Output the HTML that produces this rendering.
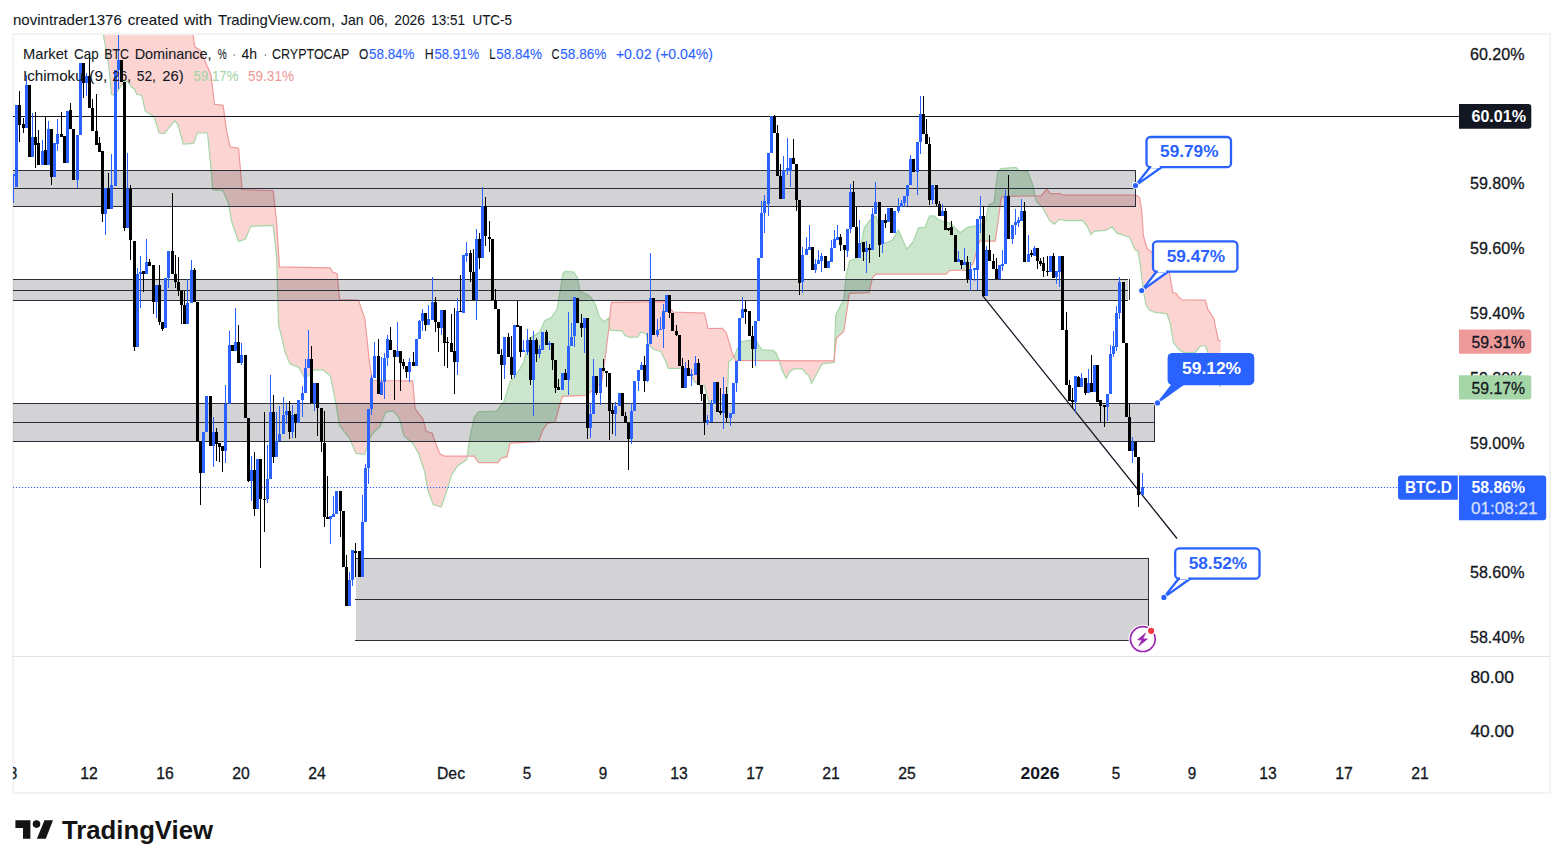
<!DOCTYPE html>
<html lang="en"><head><meta charset="utf-8"><title>BTC.D chart</title>
<style>
html,body{margin:0;padding:0;background:#fff;}
body{width:1563px;height:868px;overflow:hidden;}
svg{display:block;}
text{opacity:0.999;}
text{font-family:"Liberation Sans",Arial,sans-serif;}
.ax{font-size:17px;fill:#131722;}
.axs{stroke:#131722;stroke-width:0.3px;}
.lg{font-size:14.5px;fill:#131722;stroke-width:0.08px;}
.b{font-weight:bold;}
</style></head><body>
<svg width="1563" height="868" viewBox="0 0 1563 868">
<rect width="1563" height="868" fill="#fff"/>
<defs><clipPath id="pane"><rect x="13" y="35" width="1446" height="621"/></clipPath></defs>
<g shape-rendering="crispEdges">
<rect x="13" y="34" width="1537" height="758.5" fill="none" stroke="#f3f3f4" stroke-width="2"/>
<rect x="12" y="656" width="1538" height="1" fill="#e0e3eb"/>
</g>
<g clip-path="url(#pane)">
<polygon points="103.1,34.1 104.1,39.4 105.1,44.6 106.1,49.9 106.5,52 107.1,55.8 108.1,62.2 109,68 109.1,69 110.1,79.2 111.1,89.4 111.6,94.5 112.1,94.6 113.1,94.8 114.1,95 114.2,95 115.1,93.9 116.1,92.8 117.1,91.6 117.6,91 118.1,90.3 119.1,88.9 120.1,87.4 121.1,86 122.1,84.6 123.1,83.1 124.1,81.7 124.6,81 125.1,81.1 126.1,81.4 127.1,81.6 128,81.8 128.1,81.9 129.1,83.4 130.1,84.9 131.1,86.4 131.5,87 132.1,87.4 133.1,88 134.1,88.7 134.6,89 135.1,90.3 136.1,92.9 136.7,94.5 137.1,94.6 138.1,94.7 139.1,94.8 140.1,95 141.1,95.1 141.8,95.2 142.1,96.6 143.1,101.1 144.1,105.7 145.1,110.3 145.3,111.2 146.1,111.7 147.1,112.3 148.1,112.9 149.1,113.5 150.1,114.1 151.1,114.7 152.1,115.3 153.1,115.9 154,116.4 154.1,116.7 155.1,120 156.1,123.2 157.1,126.5 158.1,129.7 159.1,133 160.1,133.1 161.1,133.3 162.1,133.4 163.1,133.5 164.1,133.7 164.3,133.7 165.1,132.7 166.1,131.4 167.1,130.2 168.1,128.9 169.1,127.7 170.1,126.4 171.1,125.1 172.1,123.9 173.1,122.6 174.1,121.4 174.7,120.6 175.1,121.1 176.1,122.4 177.1,123.7 178.1,125 179.1,128.7 180.1,132.3 181.1,136 182.1,139.6 183.1,143.3 183.3,144 184.1,144 185.1,143.9 186.1,143.8 187.1,143.8 188.1,143.7 189.1,143.7 190.1,143.6 191.1,143.6 192.1,143.5 193,143.4 193.1,143.4 193.7,143.4 194.1,142.2 194.6,140.7 195.1,139.2 196.1,136.3 197.1,133.3 197.2,133 198.1,133 199.1,133 200.1,133 200.6,133 201.1,133 202.1,133 203.1,133 204.1,133 205.1,133 206.1,133 207.1,133 207.5,133 208.1,139.1 209.1,149.1 210.1,159.2 211,168.3 211.1,169.6 212.1,182.1 212.7,189.7 213.1,189.7 214.1,189.8 214.4,189.9 215.1,189.9 216.1,190 217.1,190.1 218.1,190.2 219.1,190.3 220.1,190.4 221.1,190.5 222.1,190.6 223.1,190.7 224.1,193 225.1,195.4 226.1,197.7 226.5,198.6 227.1,200 228.1,202.3 228.3,202.8 229.1,207.3 230,212.3 230.1,212.9 231.1,218.4 231.7,221.8 232.1,222.9 233.1,225.8 234.1,228.7 235.1,231.5 236.1,234.4 237.1,237.2 238.1,240.1 238.6,241.5 239.1,241.3 240.1,241 241.1,240.6 242.1,240.2 243.1,239.9 244.1,239.5 245.1,239.1 245.5,239 246.1,237.5 247.1,235.1 248.1,232.7 249.1,230.2 250.1,227.8 250.7,226.3 251.1,226.3 252.1,226.2 253.1,226.2 254.1,226.1 255.1,226.1 256.1,226.1 257.1,226 258.1,226 259.1,225.9 260.1,225.9 261.1,225.8 262.1,225.8 263.1,225.7 264.1,225.7 265.1,225.7 266.1,225.6 267.1,225.6 268.1,225.5 269.1,225.5 270.1,225.4 271.1,225.4 272.1,225.3 273.1,225.3 273.2,225.3 274.1,233.7 275.1,243.1 276.1,252.4 276.7,258 277.1,274 277.5,290 278.1,309.1 278.6,325 279.1,327.1 279.4,328.3 280.1,331.2 281.1,335.3 282.1,339.4 283.1,343.5 284.1,347.6 285.1,351.8 285.5,353.4 286.1,354.8 287.1,357.1 288.1,359.5 289.1,361.8 290,363.9 290.1,363.9 291.1,364.3 292.1,364.7 293.1,365.2 294.1,365.6 295.1,366 296.1,366.4 297.1,366.8 298.1,367.2 298.9,367.5 299.1,367.9 300.1,369.8 301.1,371.6 302.1,373.5 303.1,375.4 304.1,377.3 304.9,378.8 305.1,378.6 306.1,377.6 307.1,376.6 308.1,375.6 309.1,374.6 310.1,373.6 311.1,372.6 312.1,371.6 313.1,370.6 313.9,369.8 314.1,369.8 315.1,369.8 316.1,369.8 317.1,369.8 318.1,369.8 319.1,369.8 320.1,369.8 321.1,369.8 322.1,369.8 322.9,369.8 323.1,370 324.1,370.8 325.1,371.6 326.1,372.4 327.1,373.2 328.1,374 329.1,374.8 330.1,375.6 330.2,375.6 330.4,375.8 331.1,379.3 332.1,384.3 332.6,386.8 333.1,389.3 334.1,394.3 335.1,399.3 336.1,404.3 336.4,405.8 337.1,410.4 338.1,416.9 339.1,423.4 339.4,425.3 339.6,425.6 340.1,426.2 341.1,427.5 342.1,428.8 343.1,430.1 344.1,431.4 345.1,432.6 346.1,433.9 347.1,435.2 348.1,436.5 349.1,437.8 349.8,438.7 350.1,439.4 351.1,441.8 352.1,444.2 353.1,446.6 354.1,449 355.1,451.4 355.8,453.1 356.1,453.2 357.1,453.3 358.1,453.5 358.5,453.6 359.1,453.7 360.1,453.8 361.1,454 362.1,454.2 363.1,454.3 364.1,454.5 364.8,454.6 365.1,453.5 366.1,450 367.1,446.5 368.1,442.9 369.1,439.4 369.3,438.7 370.1,437.5 371.1,436.1 372.1,434.6 372.3,434.3 373.1,433.1 373.8,432.1 374.1,431.8 375.1,431 376.1,430.1 377.1,429.2 378.1,428.3 379.1,427.4 379.8,426.8 380.1,426 381.1,423.5 382.1,421 383.1,418.5 384.1,416 385.1,413.5 385.8,411.8 386.1,411.8 387.1,411.7 388.1,411.6 389.1,411.5 390.1,411.5 391.1,411.4 392.1,411.3 393.1,411.2 393.3,411.2 394.1,412.1 395.1,413.2 396.1,414.3 397.1,415.4 398.1,416.5 399.1,417.6 399.3,417.8 400.1,421 401.1,425 402.1,428.9 403.1,432.9 403.8,435.7 404.1,436 405.1,436.8 406.1,437.6 407.1,438.5 408.1,439.3 409.1,440.2 410.1,441 411.1,441.9 412.1,442.7 412.7,443.2 413.1,443.9 414.1,445.7 415.1,447.4 416.1,449.2 417.1,450.9 418.1,452.7 418.7,453.7 419.1,454.9 420.1,457.9 421.1,460.9 422.1,463.9 423.1,466.9 423.2,467.2 424.1,469.9 424.7,471.7 425.1,474.1 426.1,480.1 426.2,480.6 427.1,486 427.7,489.6 428.1,490.7 429.1,493.5 430.1,496.3 431.1,499 432.1,501.8 432.2,502.1 433.1,504.6 434.1,504.9 435.1,505.2 436.1,505.5 436.7,505.7 437.1,505.8 438.1,506.1 439.1,506.4 439.7,506.6 440.1,506.7 441.1,507 441.2,507 442.1,504.4 443.1,501.5 444.1,498.6 444.2,498.3 445.1,495.7 446.1,492.8 447.1,489.9 447.2,489.6 448.1,486.6 449.1,483.3 450.1,480 451.1,476.7 451.7,474.7 452.1,474.1 453.1,472.6 454.1,471.1 455.1,469.6 456.1,468.1 457.1,466.6 457.7,465.7 458.1,465.4 459.1,464.8 460.1,464.1 461.1,463.4 462.1,462.8 463.1,462.1 464.1,461.4 465.1,460.8 466.1,460.1 466.7,459.7 467.1,456.8 468.1,449.6 468.1,456.1 467.1,456.1 466.7,456.1 466.1,456.1 465.1,456.1 464.1,456.1 463.1,456.1 462.1,456.1 461.1,456.1 460.1,456.1 459.1,456.1 458.1,456.1 457.7,456.1 457.1,456.1 456.1,456.1 455.1,456.1 454.1,456.1 453.1,456.1 452.1,456.1 451.7,456.1 451.1,456.1 450.1,456.1 449.1,456.1 448.1,456.1 447.2,456.1 447.1,456.1 446.1,456.1 445.1,456.1 444.2,456.1 444.1,456 443.1,455.5 442.1,455 441.2,454.5 441.1,454.4 440.1,453.9 439.7,453.7 439.1,452.2 438.1,449.7 437.1,447.2 436.7,446.2 436.1,444.5 435.1,441.6 434.1,438.7 433.1,435.9 432.2,433.3 432.1,433.3 431.1,432.9 430.1,432.6 429.1,432.2 428.1,431.9 427.7,431.7 427.1,431.5 426.2,431.2 426.1,430.8 425.1,426.8 424.7,425.2 424.1,422.9 423.2,419.3 423.1,419.2 422.1,417.9 421.1,416.6 420.1,415.3 419.1,414 418.7,413.5 418.1,412.7 417.1,411.4 416.1,410.1 415.1,408.8 414.1,397.2 413.1,385.6 412.7,380.9 412.1,380.9 411.1,380.9 410.1,380.9 409.1,380.9 408.1,380.9 407.1,380.8 406.1,380.8 405.1,380.8 404.1,380.8 403.8,380.8 403.1,380.8 402.1,380.8 401.1,380.8 400.1,380.8 399.3,380.8 399.1,380.8 398.1,380.8 397.1,380.7 396.1,380.7 395.1,380.7 394.1,380.7 393.3,380.7 393.1,380.7 392.1,380.7 391.1,380.7 390.1,380.7 389.1,380.7 388.1,380.7 387.1,380.6 386.1,380.6 385.8,380.6 385.1,380.6 384.1,380.6 383.1,380.6 382.1,380.6 381.1,380.6 380.1,380.6 379.8,380.6 379.1,380.6 378.1,380.6 377.1,380.5 376.1,380.5 375.1,380.5 374.1,380.5 373.8,380.5 373.1,380.5 372.3,380.5 372.1,379.2 371.1,372.7 370.1,366.1 369.3,360.9 369.1,359 368.1,349.7 367.1,340.4 366.1,331 365.1,321.7 364.8,318.9 364.1,316.8 363.1,313.8 362.1,310.8 361.1,307.8 360.1,304.8 359.1,301.8 358.5,300 358.1,300 357.1,300 356.1,299.9 355.8,299.9 355.1,299.9 354.1,299.9 353.1,299.9 352.1,299.9 351.1,299.8 350.1,299.8 349.8,299.8 349.1,299.8 348.1,299.8 347.1,299.8 346.1,299.7 345.1,299.7 344.1,299.7 343.1,299.7 342.1,299.7 341.1,299.6 340.1,299.6 339.6,299.6 339.4,297.5 339.1,294.4 338.1,284.1 337.1,273.7 336.4,273.4 336.1,273.3 335.1,272.9 334.1,272.6 333.1,272.2 332.6,272 332.1,271.1 331.1,269.4 330.4,268.1 330.2,267.8 330.1,267.8 329.1,267.8 328.1,267.8 327.1,267.7 326.1,267.7 325.1,267.7 324.1,267.7 323.1,267.7 322.9,267.7 322.1,267.6 321.1,267.6 320.1,267.6 319.1,267.6 318.1,267.6 317.1,267.5 316.1,267.5 315.1,267.5 314.1,267.5 313.9,267.5 313.1,267.5 312.1,267.4 311.1,267.4 310.1,267.4 309.1,267.4 308.1,267.4 307.1,267.3 306.1,267.3 305.1,267.3 304.9,267.3 304.1,267.3 303.1,267.3 302.1,267.2 301.1,267.2 300.1,267.2 299.1,267.2 298.9,267.2 298.1,267.2 297.1,267.1 296.1,267.1 295.1,267.1 294.1,267.1 293.1,267.1 292.1,267.1 291.1,267 290.1,267 290,267 289.1,267 288.1,267 287.1,267 286.1,266.9 285.5,266.9 285.1,266.9 284.1,266.9 283.1,266.9 282.1,266.9 281.1,266.8 280.1,266.8 279.4,266.8 279.1,262 278.6,254 278.1,246 277.5,236.4 277.1,230 276.7,223.6 276.1,218 275.1,208.6 274.1,199.2 273.2,190.7 273.1,190.7 272.1,190.7 271.1,190.6 270.1,190.6 269.1,190.6 268.1,190.5 267.1,190.5 266.1,190.5 265.1,190.4 264.1,190.4 263.1,190.4 262.1,190.3 261.1,190.3 260.1,190.3 259.1,190.2 258.1,190.2 257.1,190.2 256.1,190.2 255.1,190.1 254.1,190.1 253.1,190.1 252.1,190 251.1,190 250.7,190 250.1,190 249.1,189.9 248.1,189.9 247.1,189.9 246.1,189.8 245.5,189.8 245.1,189.8 244.1,189.8 243.1,189.7 242.1,189.7 241.1,177.8 240.1,166 239.1,154.1 238.6,148.2 238.1,148.1 237.1,148 236.1,147.8 235.1,147.6 234.1,147.5 233.1,147.3 232.1,147.1 231.7,147.1 231.1,147 230.1,146.8 230,146.8 229.1,142.5 228.3,138.7 228.1,137.8 227.1,133 226.5,130.2 226.1,127.3 225.1,120 224.1,112.7 223.1,105.4 222.1,105.3 221.1,105.1 220.1,105 219.1,104.9 218.1,104.8 217.1,104.6 216.1,104.5 215.1,104.4 214.4,104.3 214.1,101.7 213.1,93.1 212.7,89.6 212.1,84.5 211.1,75.9 211,75 210.1,72.9 209.1,70.6 208.1,68.2 207.5,66.8 207.1,65.9 206.1,63.6 205.1,61.2 204.1,58.9 203.1,56.5 202.1,54.2 201.1,51.9 200.6,50.7 200.1,50.4 199.1,49.7 198.1,49 197.2,48.4 197.1,48.3 196.1,47.6 195.1,46.9 194.6,46.6 194.1,42.7 193.7,39.5 193.1,34.8 193,34 192.1,20 191.1,20 190.1,20 189.1,20 188.1,20 187.1,20 186.1,20 185.1,20 184.1,20 183.3,20 183.1,20 182.1,20 181.1,20 180.1,20 179.1,20 178.1,20 177.1,20 176.1,20 175.1,20 174.7,20 174.1,20 173.1,20 172.1,20 171.1,20 170.1,20 169.1,20 168.1,20 167.1,20 166.1,20 165.1,20 164.3,20 164.1,20 163.1,20 162.1,20 161.1,20 160.1,20 159.1,20 158.1,20 157.1,20 156.1,20 155.1,20 154.1,20 154,20 153.1,20 152.1,20 151.1,20 150.1,20 149.1,20 148.1,20 147.1,20 146.1,20 145.3,20 145.1,20 144.1,20 143.1,20 142.1,20 141.8,20 141.1,20 140.1,20 139.1,20 138.1,20 137.1,20 136.7,20 136.1,20 135.1,20 134.6,20 134.1,20 133.1,20 132.1,20 131.5,20 131.1,20 130.1,20 129.1,20 128.1,20 128,20 127.1,20 126.1,20 125.1,20 124.6,20 124.1,20 123.1,20 122.1,20 121.1,20 120.1,20 119.1,20 118.1,20 117.6,20 117.1,20 116.1,20 115.1,20 114.2,20 114.1,20 113.1,20 112.1,20 111.6,20 111.1,20 110.1,20 109.1,20 109,20 108.1,20 107.1,20 106.5,20 106.1,20 105.1,20 104.1,20 103.1,20" fill="#fcd5d2"/>
<polygon points="468.1,449.6 469.1,442.3 469.6,438.7 470.1,436.4 471.1,431.7 472.1,427.1 473.1,422.4 474.1,417.8 475.1,416.5 476.1,415.1 477.1,413.8 478.1,412.5 478.6,411.8 479.1,411.8 480.1,411.8 481.1,411.7 482.1,411.7 483.1,411.6 484.1,411.6 485.1,411.6 486.1,411.6 487.1,411.5 488.1,411.5 489.1,411.4 490.1,411.4 491.1,411.4 492.1,411.4 493.1,411.3 494.1,411.3 495.1,411.2 496.1,411.2 496.6,411.2 497.1,410.5 498.1,409.2 499.1,407.9 500.1,406.6 501.1,405.3 502.1,403.9 503.1,402.6 504.1,401.3 505.1,398.1 506.1,394.8 507.1,391.6 508.1,388.3 509.1,385.1 510.1,381.8 511.1,380.6 512.1,379.4 513.1,378.2 514.1,377 515.1,375.8 516.1,374.6 517.1,373.4 517.6,372.8 518.1,371.9 519.1,370.2 520.1,368.5 521.1,366.7 522.1,365 523.1,363.3 523.6,362.4 524.1,360.4 525.1,356.3 526.1,352.2 527.1,348.2 528.1,344.1 529.1,340 529.5,338.4 530.1,338 531.1,337.4 532.1,336.8 533.1,336.2 534.1,335.6 535.1,335 536.1,334.4 537.1,333.8 538.1,333.2 538.5,332.9 539.1,332.5 540,332 540.1,331.8 541.1,329.4 542.1,327 543,324.8 543.1,324.6 544.1,322.2 544.8,320.5 545.1,320.4 546.1,320 547.1,319.6 547.5,319.4 548.1,319.1 549.1,318.7 550.1,318.3 550.9,318 551.1,317.7 552.1,316.3 553.1,314.9 554.1,313.5 555,312.3 555.1,312.1 556.1,310.7 556.9,309.6 557.1,308.5 558.1,302.9 559.1,297.4 559.3,296.3 559.5,295.1 560.1,291.3 561.1,285.1 562.1,278.9 562.5,276.4 563,273.3 563.1,273.2 564.1,272.4 565.1,271.6 565.4,271.4 566.1,271.4 567.1,271.5 568.1,271.6 569.1,271.7 570.1,271.7 571.1,271.8 572.1,271.9 573.1,271.9 573.9,272 574.1,272.3 575.1,274 576.1,275.7 577.1,277.3 577.5,278 578.1,281.4 579.1,286.9 579.9,291.4 580.1,291.5 581.1,291.9 582.1,292.3 583.1,292.8 584.1,293.2 585.1,293.6 586,294 586.1,294 587.1,294.4 588.1,294.9 588.4,295 589.1,295.7 590.1,296.7 591.1,297.8 592,298.7 592.1,298.9 593.1,300.5 594.1,302.2 595.1,303.9 595.6,304.7 596.1,306.3 597.1,309.6 598.1,312.9 599.1,316.1 599.3,316.8 600.1,317.6 601.1,318.6 601.7,319.3 602.1,319.7 603.1,320.7 604.1,321.7 605.1,320.9 605.3,320.8 606.1,320.2 607.1,319.4 608.1,318.6 608.9,318 609.1,320 610.1,330.1 610.1,315 609.1,325.6 608.9,327.7 608.1,334.1 607.1,342.2 606.1,350.3 605.3,356.7 605.1,358.1 604.1,365.1 603.1,372.2 602.1,379.2 601.7,382 601.1,382.5 600.1,383.4 599.3,384.1 599.1,384.3 598.1,385.2 597.1,386.1 596.1,387 595.6,387.4 595.1,387.9 594.1,388.7 593.1,389.6 592.1,390.5 592,390.6 591.1,391.3 590.1,392.1 589.1,392.9 588.4,393.5 588.1,393.7 587.1,394.5 586.1,395.3 586,395.4 585.1,395.4 584.1,395.5 583.1,395.5 582.1,395.5 581.1,395.6 580.1,395.6 579.9,395.6 579.1,395.7 578.1,395.7 577.5,395.7 577.1,395.7 576.1,395.8 575.1,395.8 574.1,395.9 573.9,395.9 573.1,395.9 572.1,395.9 571.1,396 570.1,396 569.1,396 568.1,396.1 567.1,396.1 566.1,396.2 565.4,396.2 565.1,396.2 564.1,396.2 563.1,396.3 563,396.3 562.5,396.3 562.1,397.6 561.1,400.7 560.1,403.9 559.5,405.8 559.3,406.5 559.1,407.3 558.1,410.9 557.1,414.6 556.9,415.3 556.1,418.3 555.1,421.9 555,422.3 554.1,422.4 553.1,422.5 552.1,422.6 551.1,422.8 550.9,422.8 550.1,422.9 549.1,423 548.1,423.1 547.5,423.2 547.1,423.8 546.1,425.2 545.1,426.7 544.8,427.1 544.1,428.1 543.1,429.6 543,429.7 542.1,432.1 541.1,434.8 540.1,437.4 540,437.7 539.1,440.1 538.5,441.7 538.1,441.7 537.1,441.8 536.1,441.8 535.1,441.9 534.1,441.9 533.1,442 532.1,442 531.1,442.1 530.1,442.1 529.5,442.2 529.1,442.2 528.1,442.2 527.1,442.3 526.1,442.4 525.1,442.4 524.1,442.5 523.6,442.5 523.1,442.5 522.1,442.6 521.1,442.6 520.1,442.7 519.1,442.7 518.1,442.8 517.6,442.8 517.1,442.8 516.1,442.9 515.1,442.9 514.1,443 513.1,443 512.1,443.1 511.1,443.1 510.1,443.2 509.1,447.7 508.1,452.2 507.1,456.7 506.1,456.9 505.1,457.2 504.1,457.4 503.1,457.7 502.1,457.9 501.1,458.2 500.1,459.7 499.1,461.2 498.1,462.7 497.1,462.7 496.6,462.7 496.1,462.7 495.1,462.7 494.1,462.7 493.1,462.7 492.1,462.7 491.1,462.7 490.1,462.7 489.1,462.7 488.1,462.7 487.1,462.7 486.1,462.7 485.1,462.7 484.1,462.7 483.1,462.7 482.1,462.7 481.1,462.7 480.1,462.7 479.1,462.7 478.6,462.7 478.1,462 477.1,460.5 476.1,459 475.1,457.6 474.1,456.1 473.1,456.1 472.1,456.1 471.1,456.1 470.1,456.1 469.6,456.1 469.1,456.1 468.1,456.1" fill="#cbe6cc"/>
<polygon points="610.1,330.1 611.1,330.2 611.3,330.2 612.1,330.2 613.1,330.3 614.1,330.4 615.1,330.4 616.1,330.5 617.1,330.6 618.1,330.6 619.1,330.7 620.1,330.8 621.1,330.8 622.1,330.9 622.2,330.9 623.1,332.4 624.1,334.1 624.6,335 625.1,335.2 626.1,335.7 627.1,336.2 628.1,336.7 629.1,337.2 629.5,337.4 630.1,337.4 631.1,337.3 632.1,337.2 633.1,337.2 634.1,337.1 635.1,337.1 636.1,337 637.1,336.9 637.9,336.9 638.1,336.5 639.1,334.5 640.1,332.6 640.4,332 641.1,332.2 642.1,332.5 643.1,332.8 644.1,333.1 645.1,333.4 646.1,333.7 646.4,333.8 647.1,339.4 647.6,343.4 648.1,343.9 649.1,344.9 650.1,345.9 651.1,346.9 652.1,347.9 653.1,348.9 653.7,349.5 654.1,349.6 655.1,349.9 656.1,350.1 657.1,350.4 658.1,350.7 659.1,350.9 660.1,351.2 660.9,351.4 661.1,351.8 662.1,353.9 663.1,356 664.1,358.1 665.1,360.1 665.8,361.6 666.1,362.4 667.1,365.2 668.1,368 668.2,368.3 669.1,368.3 670.1,368.3 671.1,368.3 672.1,368.3 673,368.3 673.1,368.3 674.1,368.3 675.1,368.3 676.1,368.3 677.1,368.3 678.1,368.3 679.1,368.3 680.1,368.3 680.3,368.3 681.1,367.7 682.1,366.9 682.7,366.4 683.1,367.6 684.1,370.7 685.1,373.7 686.1,374 687.1,374.3 688.1,374.6 689.1,375 690.1,375.3 691.1,375.6 692.1,377.4 693.1,379.1 694.1,380.9 694.8,382.1 695.1,382.3 696.1,383 697.1,383.6 698.1,384.3 699.1,385 699.6,385.3 700.1,385.4 701.1,385.5 702.1,385.6 703.1,385.7 704.1,385.8 704.4,385.8 705.1,388.5 706.1,392.3 706.9,395.4 707.1,396 708,398.7 708.1,399.1 709.1,402.1 709.3,402.7 710.1,402.2 711.1,401.5 712.1,400.8 712.9,400.3 713.1,400.3 714.1,400.2 715.1,400.1 716.1,400 717.1,399.9 718.1,399.8 719.1,399.7 720.1,399.7 721.1,399.6 722.1,399.5 722.3,399.5 723.1,399.4 724.1,399.3 725.1,399.2 726.1,399.1 726.2,399.1 727.1,399 727.5,399 728.1,378.8 728.6,362 729.1,361.6 730.1,360.8 731,360 731.1,359.9 732.1,358.8 733.1,357.8 734.1,356.7 734.1,357.2 733.1,354.7 732.1,352.2 731.1,348.9 731,348.6 730.1,345.6 729.1,342.3 728.6,340.6 728.1,339 727.5,337 727.1,335.7 726.2,332.7 726.1,332.6 725.1,331.5 724.1,330.4 723.1,329.3 722.3,328.4 722.1,328.4 721.1,328.4 720.1,328.4 719.1,328.4 718.1,328.4 717.1,328.4 716.1,328.4 715.1,328.5 714.1,328.5 713.1,328.5 712.9,328.5 712.1,328.5 711.1,328.5 710.1,328.5 709.3,328.5 709.1,328.5 708.1,328.5 708,328.5 707.1,324.7 706.9,323.8 706.1,320.4 705.1,316.2 704.4,313.2 704.1,313.2 703.1,313.2 702.1,313.1 701.1,313.1 700.1,313 699.6,313 699.1,313 698.1,313 697.1,312.9 696.1,312.9 695.1,312.8 694.8,312.8 694.1,312.8 693.1,312.8 692.1,312.7 691.1,312.7 690.1,312.7 689.1,312.6 688.1,312.6 687.1,312.5 686.1,312.5 685.1,312.5 684.1,312.4 683.1,312.4 682.7,312.4 682.1,312.3 681.1,312.3 680.3,312.3 680.1,312.3 679.1,312.2 678.1,312.2 677.1,312.2 676.1,312.1 675.1,312.1 674.1,312 673.1,312 673,312 672.1,310.7 671.1,309.3 670.1,307.8 669.1,306.4 668.2,305.1 668.1,304.9 667.1,303.5 666.1,302 665.8,301.6 665.1,301.6 664.1,301.6 663.1,301.6 662.1,301.6 661.1,301.7 660.9,301.7 660.1,301.7 659.1,301.7 658.1,301.7 657.1,301.7 656.1,301.7 655.1,301.7 654.1,301.8 653.7,301.8 653.1,301.8 652.1,301.8 651.1,301.8 650.1,301.8 649.1,301.8 648.1,301.8 647.6,301.8 647.1,301.8 646.4,301.8 646.1,301.9 645.1,301.9 644.1,301.9 643.1,301.9 642.1,301.9 641.1,301.9 640.4,301.9 640.1,301.9 639.1,301.9 638.1,302 637.9,302 637.1,302 636.1,302 635.1,302 634.1,302 633.1,302 632.1,302 631.1,302 630.1,302.1 629.5,302.1 629.1,302.1 628.1,302.1 627.1,302.1 626.1,302.1 625.1,302.1 624.6,302.1 624.1,302.1 623.1,302.1 622.2,302.2 622.1,302.2 621.1,302.2 620.1,302.2 619.1,302.2 618.1,302.2 617.1,302.2 616.1,302.2 615.1,302.3 614.1,302.3 613.1,302.3 612.1,302.3 611.3,302.3 611.1,304.4 610.1,315" fill="#fcd5d2"/>
<polygon points="734.1,356.7 734.6,356.2 735.1,354.8 735.4,353.9 736.1,351.9 737,349.3 737.1,349.1 738.1,347.3 739.1,345.5 740.1,343.7 741.1,341.9 741.3,341.5 742.1,341.4 743.1,341.2 744.1,341.1 745.1,340.9 746.1,340.8 747.1,340.6 748.1,340.5 749.1,340.3 750.1,340.2 750.7,340.1 751.1,340.1 752.1,340.2 753.1,340.3 754.1,340.3 755.1,340.4 756.1,340.5 756.6,340.5 757.1,341.8 758.1,344.4 758.5,345.4 759.1,346.1 760.1,347.2 761.1,348.3 762.1,349.4 762.5,349.9 763.1,349.9 764.1,350 765.1,350 766.1,350 767.1,350.1 768.1,350.1 769.1,350.1 770.1,350.2 771.1,350.2 772.1,350.3 773.1,350.3 773.2,350.3 774.1,351.2 775.1,352.1 776.1,353.1 776.2,353.2 777.1,355.3 778.1,357.7 779.1,360 780.1,363.4 780.1,360.6 779.1,360.6 778.1,360.6 777.1,360.6 776.2,360.6 776.1,360.6 775.1,360.6 774.1,360.6 773.2,360.6 773.1,360.6 772.1,360.6 771.1,360.6 770.1,360.6 769.1,360.6 768.1,360.6 767.1,360.6 766.1,360.6 765.1,360.6 764.1,360.6 763.1,360.6 762.5,360.6 762.1,360.6 761.1,360.6 760.1,360.6 759.1,360.6 758.5,360.6 758.1,360.6 757.1,360.6 756.6,360.6 756.1,360.6 755.1,360.6 754.1,360.6 753.1,360.6 752.1,360.6 751.1,360.5 750.7,360.5 750.1,360.5 749.1,360.5 748.1,360.5 747.1,360.5 746.1,360.5 745.1,360.5 744.1,360.5 743.1,360.5 742.1,360.5 741.3,360.5 741.1,360.5 740.1,360.5 739.1,360.5 738.1,360.5 737.1,360.5 737,360.5 736.1,360.5 735.4,360.5 735.1,359.7 734.6,358.5 734.1,357.2" fill="#cbe6cc"/>
<polygon points="780.1,363.4 781.1,366.8 782,369.9 782.1,370.1 783.1,372 784.1,373.9 785.1,375.8 786.1,377.7 786.3,378.1 787.1,376.6 788.1,374.7 789.1,372.9 789.9,371.4 790.1,371.3 791.1,370.6 792.1,370 793.1,369.3 793.8,368.9 794.1,368.9 795.1,368.9 796.1,368.9 797.1,368.9 798.1,368.9 799.1,368.9 800.1,368.9 801.1,368.9 802.1,368.9 802.6,368.9 803.1,369.7 804.1,371.2 805.1,372.8 805.5,373.4 806.1,373.7 807.1,374.3 808.1,374.8 808.5,375 809.1,376.6 810.1,379.4 811.1,382.1 811.5,383.2 812.1,382.1 813.1,380.3 814.1,378.5 815.1,376.7 816.1,374.9 816.6,374 817.1,373.1 818.1,371.2 819.1,369.3 820.1,367.4 821.1,365.5 821.9,364 822.1,364 823.1,363.8 824.1,363.7 825.1,363.6 826.1,363.4 827.1,363.3 828.1,363.2 829.1,363.1 830.1,362.9 831.1,362.8 832.1,362.7 833.1,362.5 834.1,362.4 835.1,332.9 835.1,351 834.1,360.8 833.1,360.8 832.1,360.8 831.1,360.8 830.1,360.8 829.1,360.8 828.1,360.8 827.1,360.8 826.1,360.8 825.1,360.8 824.1,360.8 823.1,360.8 822.1,360.8 821.9,360.8 821.1,360.8 820.1,360.8 819.1,360.8 818.1,360.8 817.1,360.7 816.6,360.7 816.1,360.7 815.1,360.7 814.1,360.7 813.1,360.7 812.1,360.7 811.5,360.7 811.1,360.7 810.1,360.7 809.1,360.7 808.5,360.7 808.1,360.7 807.1,360.7 806.1,360.7 805.5,360.7 805.1,360.7 804.1,360.7 803.1,360.7 802.6,360.7 802.1,360.7 801.1,360.7 800.1,360.7 799.1,360.7 798.1,360.7 797.1,360.7 796.1,360.7 795.1,360.7 794.1,360.7 793.8,360.7 793.1,360.7 792.1,360.7 791.1,360.7 790.1,360.7 789.9,360.7 789.1,360.7 788.1,360.7 787.1,360.7 786.3,360.7 786.1,360.7 785.1,360.7 784.1,360.6 783.1,360.6 782.1,360.6 782,360.6 781.1,360.6 780.1,360.6" fill="#fcd5d2"/>
<polygon points="835.1,332.9 835.7,315.2 836.1,314.4 836.4,313.8 837.1,312.4 838.1,310.4 839.1,308.4 840.1,306.4 840.3,306 841.1,304.4 842.1,302.4 843.1,300.4 843.8,299 844.1,296 845.1,286 846.1,276 847.1,271.6 848.1,267.2 849.1,262.8 849.5,261 850.1,260.8 851.1,260.4 852.1,260 853.1,259.6 854.1,259.3 855.1,258.9 855.3,258.8 856.1,257.2 857.1,255.2 858.1,253.1 859.1,251.1 859.9,249.5 860.1,248.5 861.1,243.8 862.1,239 863.1,234.3 864.1,229.5 864.5,227.6 865.1,226.8 866.1,225.5 867.1,224.1 868.1,222.8 869.1,221.5 870.1,220.1 871.1,218.8 871.4,218.4 872.1,218 872.6,217.8 873.1,217.5 874.1,217 875.1,216.5 876,216 876.1,216.4 877.1,220.4 878.1,224.3 879.1,228.3 880.1,232.3 881.1,236.3 882.1,240.2 883,243.8 883.1,243.8 884.1,243.4 885.1,243 886.1,242.6 887.1,242.2 888.1,241.9 889.1,241.5 890.1,241.1 891.1,240.7 892.1,240.3 892.2,240.3 893.1,238.9 894.1,237.3 895.1,235.7 896.1,234.1 897.1,232.5 898.1,230.9 898.5,230.3 899.1,231.6 900.1,233.9 901.1,236.1 902.1,238.3 902.5,239.2 903.1,240.6 904.1,243 905.1,245.4 906.1,247.8 906.7,249.2 907.1,248.7 908.1,247.6 909.1,246.5 910.1,245.3 911.1,244.2 912.1,243 913,242 913.1,241.7 914.1,239.2 915.1,236.6 916.1,234 917.1,231.4 918.1,228.8 918.5,227.8 919.1,227.8 920.1,227.7 921.1,227.6 922.1,227.5 923.1,227.4 924.1,227.4 925,227.3 925.1,227 926.1,224.5 927.1,222 928.1,219.5 929.1,217 929.5,216 930.1,216 931.1,215.9 932.1,215.9 933.1,215.9 934.1,215.8 934.5,215.8 935.1,216.4 936.1,217.4 937.1,218.5 938.1,219.5 938.2,219.6 939.1,220 940.1,220.4 941.1,220.9 942.1,221.3 943.1,221.8 943.2,221.8 944.1,221.9 945.1,222.1 946.1,222.3 946.3,222.3 947.1,222.4 948.1,222.6 949.1,222.8 949.3,222.8 950.1,222.9 950.5,223 951.1,223.7 952.1,224.8 953.1,225.9 954.1,227 955,228 955.1,228.1 956.1,229 957.1,229.9 958.1,230.9 959.1,231.8 960.1,232.7 961.1,232 962.1,231.2 963.1,230.5 964.1,229.8 965.1,229.1 966.1,228.3 967.1,227.6 967.4,227.4 968.1,227.3 969.1,227.1 970.1,226.9 971.1,226.7 972.1,226.5 973.1,226.4 973.4,226.3 974.1,226.2 975.1,226 976.1,225.8 977.1,225.6 978.1,225.4 978.3,225.4 979.1,225 979.7,224.7 980.1,224.5 981.1,224 982.1,223.5 983.1,223 984.1,222.5 985.1,222 985.5,221.8 986.1,218.6 987.1,213.4 988.1,208.1 988.7,204.9 989.1,204.7 990.1,204.3 991.1,203.8 992.1,203.4 993.1,202.9 994,202.5 994.1,201.7 995.1,193.2 995.2,192.4 996.1,184.8 997.1,176.4 997.6,172.2 998.1,171.7 999.1,170.7 1000.1,169.7 1001.1,168.7 1001.2,168.6 1002.1,168.5 1003.1,168.4 1003.7,168.4 1004.1,168.4 1005.1,168.3 1006.1,168.2 1007.1,168.1 1008.1,168 1009.1,168 1010.1,167.9 1011.1,167.8 1012.1,167.7 1013.1,167.6 1014.1,167.5 1015.1,167.5 1015.8,167.4 1016.1,167.7 1017.1,168.7 1018.1,169.7 1019.1,170.7 1019.4,171 1020.1,171.1 1021.1,171.1 1022.1,171.2 1023.1,171.3 1024.1,171.4 1025.1,171.5 1026.1,171.6 1027.1,171.6 1027.8,171.7 1028.1,172.5 1029.1,175 1030.1,177.6 1031.1,180.2 1032.1,182.8 1032.7,184.3 1033.1,186.2 1034.1,190.9 1035.1,195.6 1036.1,200.3 1036.1,196 1035.1,196 1034.1,196 1033.1,196 1032.7,196 1032.1,196 1031.1,196 1030.1,196 1029.1,196.1 1028.1,196.1 1027.8,196.1 1027.1,196.1 1026.1,196.1 1025.1,196.1 1024.1,196.1 1023.1,196.1 1022.1,196.2 1021.1,196.2 1020.1,196.2 1019.4,196.2 1019.1,196.2 1018.1,196.2 1017.1,196.2 1016.1,196.2 1015.8,196.2 1015.1,196.2 1014.1,196.3 1013.1,196.3 1012.1,196.3 1011.1,196.3 1010.1,196.3 1009.1,196.3 1008.1,196.3 1007.1,196.4 1006.1,196.4 1005.1,196.4 1004.1,196.4 1003.7,196.4 1003.1,196.7 1002.1,197.2 1001.2,197.6 1001.1,198.4 1000.1,206.1 999.1,213.8 998.1,221.5 997.6,225.4 997.1,228.7 996.1,235.2 995.2,241.1 995.1,241.1 994.1,241.1 994,241.1 993.1,241.1 992.1,241.1 991.1,241.1 990.1,241.1 989.1,241.1 988.7,241.1 988.1,241.1 987.1,241 986.1,241 985.5,241 985.1,241 984.1,241 983.1,241 982.1,241 981.1,241 980.1,241 979.7,241 979.1,242.6 978.3,244.8 978.1,245.5 977.1,249.2 976.1,252.9 975.1,256.6 974.1,260.3 973.4,262.9 973.1,263.3 972.1,264.5 971.1,265.7 970.1,266.9 969.1,268.1 968.1,269.3 967.4,270.2 967.1,270.2 966.1,270.2 965.1,270.2 964.1,270.3 963.1,270.3 962.1,270.3 961.1,270.3 960.1,270.3 959.1,270.3 958.1,270.4 957.1,270.4 956.1,270.4 955.1,270.4 955,270.4 954.1,270.4 953.1,270.4 952.1,270.5 951.1,270.5 950.5,270.5 950.1,270.5 949.3,270.5 949.1,270.7 948.1,272 947.1,273.2 946.3,274.2 946.1,274.2 945.1,274.2 944.1,274.2 943.2,274.2 943.1,274.2 942.1,274.2 941.1,274.2 940.1,274.2 939.1,274.2 938.2,274.2 938.1,274.2 937.1,274.2 936.1,274.2 935.1,274.2 934.5,274.2 934.1,274.2 933.1,274.2 932.1,274.2 931.1,274.2 930.1,274.2 929.5,274.2 929.1,274.2 928.1,274.2 927.1,274.2 926.1,274.2 925.1,274.2 925,274.2 924.1,274.2 923.1,274.2 922.1,274.2 921.1,274.2 920.1,274.2 919.1,274.2 918.5,274.2 918.1,274.2 917.1,274.2 916.1,274.2 915.1,274.2 914.1,274.2 913.1,274.2 913,274.2 912.1,274.2 911.1,274.2 910.1,274.2 909.1,274.2 908.1,274.2 907.1,274.2 906.7,274.2 906.1,274.2 905.1,274.2 904.1,274.2 903.1,274.2 902.5,274.2 902.1,274.2 901.1,274.2 900.1,274.2 899.1,274.2 898.5,274.2 898.1,274.2 897.1,274.2 896.1,274.2 895.1,274.2 894.1,274.2 893.1,274.2 892.2,274.2 892.1,274.2 891.1,274.2 890.1,274.2 889.1,274.2 888.1,274.2 887.1,274.2 886.1,274.2 885.1,274.2 884.1,274.2 883.1,274.2 883,274.2 882.1,274.2 881.1,274.2 880.1,274.2 879.1,274.2 878.1,274.2 877.1,274.2 876.1,274.2 876,274.2 875.1,275 874.1,275.9 873.1,276.8 872.6,277.2 872.1,279.4 871.4,282.5 871.1,283.8 870.1,288.2 869.1,292.6 868.1,292.6 867.1,292.7 866.1,292.7 865.1,292.7 864.5,292.8 864.1,292.8 863.1,292.8 862.1,292.9 861.1,292.9 860.1,292.9 859.9,292.9 859.1,293 858.1,293 857.1,293 856.1,293.1 855.3,293.1 855.1,293.1 854.1,293.1 853.1,293.2 852.1,293.2 851.1,293.2 850.1,293.3 849.5,293.3 849.1,296 848.1,302.6 847.1,309.3 846.1,316 845.1,322.6 844.1,329.3 843.8,331.3 843.1,332 842.1,332.9 841.1,333.8 840.3,334.6 840.1,334.7 839.1,335.7 838.1,336.6 837.1,337.5 836.4,338.2 836.1,341.1 835.7,345.1 835.1,351" fill="#cbe6cc"/>
<polygon points="1036.1,200.3 1036.3,201.2 1037.1,202 1038.1,203 1039.1,204 1040.1,205 1041.1,206 1042.1,207 1042.4,207.3 1043.1,208.6 1044.1,210.4 1045.1,212.3 1046.1,214.1 1046.7,215.2 1047.1,216 1048.1,217.8 1049.1,219.7 1049.6,220.6 1050.1,221 1050.8,221.5 1051.1,221.7 1052.1,222.5 1053.1,223.2 1054.1,224 1054.4,224.2 1055.1,223.5 1056.1,222.5 1057.1,221.6 1058.1,220.6 1059.1,219.6 1059.3,219.4 1059.5,219.4 1060.1,219.5 1061.1,219.7 1062.1,219.9 1063.1,220 1063.5,220.1 1064.1,220.2 1065.1,220.4 1066.1,220.5 1066.5,220.6 1067.1,220.6 1068.1,220.6 1069.1,220.6 1070.1,220.6 1071.1,220.5 1072.1,220.5 1073.1,220.5 1074.1,220.5 1075.1,220.5 1076.1,220.5 1077.1,220.5 1078.1,220.5 1079.1,220.4 1080.1,220.4 1081.1,220.4 1082.1,220.4 1082.5,220.4 1083.1,221.1 1084.1,222.3 1085.1,223.6 1086.1,224.8 1087.1,226 1088.1,228.3 1089.1,230.6 1090.1,233 1090.8,234.6 1091.1,234.3 1092.1,233.4 1093.1,232.5 1094.1,231.6 1094.7,231.1 1095.1,231.1 1096.1,231 1097.1,230.9 1098.1,230.9 1099.1,230.8 1100.1,230.7 1101.1,230.6 1102.1,230.6 1103.1,230.5 1104.1,230.4 1105.1,230.3 1105.7,230.3 1106.1,230.1 1107.1,229.5 1108.1,229 1109.1,228.5 1110.1,227.9 1111.1,227.4 1112.1,226.9 1112.2,226.8 1113.1,228 1114.1,229.4 1115.1,230.8 1116.1,232.2 1116.6,232.9 1117.1,233.1 1118.1,233.4 1119.1,233.8 1120.1,234.1 1121.1,234.5 1122.1,234.8 1123.1,235.2 1124.1,235.5 1125.1,235.9 1126.1,236.2 1127.1,236.6 1128.1,236.9 1129.1,237.3 1129.8,237.5 1130.1,238.2 1131.1,240.6 1132.1,243 1133.1,245.4 1134.1,247.8 1134.8,249.5 1135.1,249.6 1136.1,250.1 1136.3,250.2 1137.1,250.6 1138.1,251.1 1139.1,257.1 1139.6,260.2 1140.1,263.2 1141.1,271.7 1141.8,277.7 1142.1,280.2 1143.1,289.6 1143.3,291.5 1144.1,295.4 1145.1,300.2 1145.3,301.1 1146.1,305 1147.1,306.5 1147.3,306.8 1148.1,307.9 1149.1,309.4 1149.5,310 1150.1,310.3 1151.1,310.7 1151.8,311.1 1152.1,311.2 1153.1,311.7 1153.8,312 1154.1,312 1155.1,312.2 1156.1,312.3 1157.1,312.5 1158.1,312.6 1159.1,312.8 1160.1,312.9 1161.1,313.1 1162.1,313.2 1163.1,313.3 1164.1,313.5 1165.1,313.6 1166.1,313.8 1167,313.9 1167.1,314.2 1168.1,317.3 1169.1,320.4 1169.5,321.6 1170.1,323.5 1170.4,324.4 1171.1,328.6 1172.1,334.6 1172.7,338.2 1173.1,340.6 1173.4,342.4 1174.1,343.3 1175.1,344.6 1176.1,345.8 1176.4,346.2 1177.1,347.1 1178.1,348.4 1178.4,348.7 1179.1,349.6 1179.4,350 1180.1,350.4 1181.1,351 1182.1,351.6 1182.4,351.7 1183.1,352.1 1183.9,352.6 1184.1,352.6 1185.1,352.6 1186.1,352.6 1187.1,352.6 1188.1,352.6 1189.1,352.6 1190.1,352.6 1191.1,352.6 1192.1,352.6 1193.1,352.6 1194.1,352.6 1195,352.6 1195.1,352.5 1196.1,351.2 1197.1,350 1198.1,348.7 1199.1,347.5 1200.1,346.2 1200.3,346 1201.1,346 1202.1,346 1203.1,346 1204.1,346 1205.1,346 1205.4,346 1205.5,346 1206.1,347.6 1207.1,350.4 1207.7,352 1208,352.8 1208.1,353.1 1209.1,356.2 1210.1,359.2 1211.1,362.3 1212,365 1212.1,365.4 1213.1,369.1 1213.9,372.1 1214.1,372.9 1215.1,376.6 1216,380 1216.1,380.1 1216.2,380.3 1217.1,381.6 1218.1,383.1 1218.3,383.4 1219.1,384.6 1220.1,386.1 1220.7,387 1220.7,340.9 1220.1,340.7 1219.1,340.5 1218.3,340.3 1218.1,339.4 1217.1,334.6 1216.2,330.4 1216.1,329.9 1216,329.4 1215.1,324.7 1214.1,319.4 1213.9,318.4 1213.1,317.2 1212.1,315.7 1212,315.5 1211.1,314.2 1210.1,312.6 1209.1,311.1 1208.1,309.6 1208,309.5 1207.7,309 1207.1,306.7 1206.1,302.9 1205.5,300.6 1205.4,300.2 1205.1,300.2 1204.1,300.2 1203.1,300.2 1202.1,300.2 1201.1,300.1 1200.3,300.1 1200.1,300.1 1199.1,300.1 1198.1,300.1 1197.1,300.1 1196.1,300.1 1195.1,300.1 1195,300.1 1194.1,300.1 1193.1,300 1192.1,300 1191.1,300 1190.1,300 1189.1,300 1188.1,300 1187.1,300 1186.1,299.9 1185.1,299.9 1184.1,299.9 1183.9,299.9 1183.1,299.9 1182.4,299.9 1182.1,299.7 1181.1,299 1180.1,298.3 1179.4,297.8 1179.1,297.6 1178.4,297.1 1178.1,296.6 1177.1,294.8 1176.4,293.5 1176.1,293.4 1175.1,293.2 1174.1,293 1173.4,292.9 1173.1,292.8 1172.7,292.7 1172.1,289 1171.1,282.8 1170.4,278.5 1170.1,276.6 1169.5,272.9 1169.1,272.4 1168.1,271.3 1167.1,270.1 1167,270 1166.1,268.9 1165.1,267.8 1164.1,266.6 1163.1,265.5 1162.1,264.3 1161.1,263.1 1160.1,262 1159.1,260.8 1158.1,259.6 1157.1,258.5 1156.1,257.3 1155.1,256.1 1154.1,255 1153.8,254.6 1153.1,253.8 1152.1,252.6 1151.8,252.3 1151.1,251.7 1150.1,250.9 1149.5,250.5 1149.1,250.1 1148.1,249.3 1147.3,248.7 1147.1,248.1 1146.1,245.3 1145.3,243 1145.1,242.2 1144.1,238.2 1143.3,235 1143.1,231.8 1142.1,215.8 1141.8,211 1141.1,206.8 1140.1,200.9 1139.6,197.9 1139.1,197.5 1138.1,196.7 1137.1,195.9 1136.3,195.2 1136.1,195.2 1135.1,195.2 1134.8,195.2 1134.1,195.2 1133.1,195.2 1132.1,195.2 1131.1,195.2 1130.1,195.2 1129.8,195.2 1129.1,195.2 1128.1,195.2 1127.1,195.2 1126.1,195.2 1125.1,195.2 1124.1,195.2 1123.1,195.2 1122.1,195.2 1121.1,195.2 1120.1,195.2 1119.1,195.2 1118.1,195.2 1117.1,195.2 1116.6,195.2 1116.1,195.2 1115.1,195.2 1114.1,195.2 1113.1,195.2 1112.2,195.2 1112.1,195.2 1111.1,195.2 1110.1,195.2 1109.1,195.2 1108.1,195.2 1107.1,195.2 1106.1,195.2 1105.7,195.2 1105.1,195.2 1104.1,195.2 1103.1,195.2 1102.1,195.2 1101.1,195.2 1100.1,195.2 1099.1,195.2 1098.1,195.2 1097.1,195.2 1096.1,195.2 1095.1,195.2 1094.7,195.2 1094.1,195.2 1093.1,195.2 1092.1,195.2 1091.1,195.2 1090.8,195.2 1090.1,195.2 1089.1,195.2 1088.1,195.2 1087.1,195.2 1086.1,195.2 1085.1,195.2 1084.1,195.2 1083.1,195.2 1082.5,195.2 1082.1,195.2 1081.1,195.2 1080.1,195.2 1079.1,195.2 1078.1,195.2 1077.1,195.2 1076.1,195.2 1075.1,195.2 1074.1,195.2 1073.1,195.2 1072.1,195.2 1071.1,195.2 1070.1,195.2 1069.1,195.2 1068.1,195.2 1067.1,195.2 1066.5,195.2 1066.1,195.2 1065.1,195.2 1064.1,195.2 1063.5,195.2 1063.1,195 1062.1,194.6 1061.1,194.2 1060.1,193.8 1059.5,193.5 1059.3,193.5 1059.1,193.5 1058.1,193.5 1057.1,193.6 1056.1,193.6 1055.1,193.7 1054.4,193.7 1054.1,193.7 1053.1,193.7 1052.1,193.8 1051.1,193.8 1050.8,193.8 1050.1,193 1049.6,192.5 1049.1,191.9 1048.1,190.8 1047.1,189.6 1046.7,189.2 1046.1,189.9 1045.1,191.1 1044.1,192.3 1043.1,193.5 1042.4,194.3 1042.1,194.7 1041.1,195.9 1040.1,195.9 1039.1,195.9 1038.1,195.9 1037.1,196 1036.3,196 1036.1,196" fill="#fcd5d2"/>
<polyline points="103.1,34.1 106.5,52 109,68 111.6,94.5 114.2,95 117.6,91 124.6,81 128,81.8 131.5,87 134.6,89 136.7,94.5 141.8,95.2 145.3,111.2 154,116.4 159.1,133 164.3,133.7 174.7,120.6 178.1,125 183.3,144 193.7,143.4 197.2,133 207.5,133 211,168.3 212.7,189.7 223.1,190.7 228.3,202.8 231.7,221.8 238.6,241.5 245.5,239 250.7,226.3 273.2,225.3 276.7,258 277.5,290 278.6,325 285.5,353.4 290,363.9 298.9,367.5 304.9,378.8 313.9,369.8 322.9,369.8 330.4,375.8 336.4,405.8 339.4,425.3 349.8,438.7 355.8,453.1 364.8,454.6 369.3,438.7 373.8,432.1 379.8,426.8 385.8,411.8 393.3,411.2 399.3,417.8 403.8,435.7 412.7,443.2 418.7,453.7 424.7,471.7 427.7,489.6 433.1,504.6 441.2,507 447.2,489.6 451.7,474.7 457.7,465.7 466.7,459.7 469.6,438.7 474.1,417.8 478.6,411.8 496.6,411.2 504.1,401.3 510.1,381.8 517.6,372.8 523.6,362.4 529.5,338.4 540,332 544.8,320.5 550.9,318 556.9,309.6 559.3,296.3 563,273.3 565.4,271.4 573.9,272 577.5,278 579.9,291.4 588.4,295 592,298.7 595.6,304.7 599.3,316.8 604.1,321.7 608.9,318 610.1,330.1 622.2,330.9 624.6,335 629.5,337.4 637.9,336.9 640.4,332 646.4,333.8 647.6,343.4 653.7,349.5 660.9,351.4 665.8,361.6 668.2,368.3 680.3,368.3 682.7,366.4 685.1,373.7 691.1,375.6 694.8,382.1 699.6,385.3 704.4,385.8 706.9,395.4 709.3,402.7 712.9,400.3 727.5,399 728.6,362 731,360 734.6,356.2 737,349.3 741.3,341.5 750.7,340.1 756.6,340.5 758.5,345.4 762.5,349.9 773.2,350.3 776.2,353.2 779.1,360 782,369.9 786.3,378.1 789.9,371.4 793.8,368.9 802.6,368.9 805.5,373.4 808.5,375 811.5,383.2 816.6,374 821.9,364 834.1,362.4 835.7,315.2 840.3,306 843.8,299 846.1,276 849.5,261 855.3,258.8 859.9,249.5 864.5,227.6 871.4,218.4 876,216 883,243.8 892.2,240.3 898.5,230.3 902.5,239.2 906.7,249.2 913,242 918.5,227.8 925,227.3 929.5,216 934.5,215.8 938.2,219.6 943.2,221.8 950.5,223 955,228 960.1,232.7 967.4,227.4 978.3,225.4 985.5,221.8 988.7,204.9 994,202.5 997.6,172.2 1001.2,168.6 1015.8,167.4 1019.4,171 1027.8,171.7 1032.7,184.3 1036.3,201.2 1042.4,207.3 1049.6,220.6 1054.4,224.2 1059.3,219.4 1066.5,220.6 1082.5,220.4 1087.1,226 1090.8,234.6 1094.7,231.1 1105.7,230.3 1112.2,226.8 1116.6,232.9 1129.8,237.5 1134.8,249.5 1138.1,251.1 1140.1,263.2 1142.1,280.2 1143.3,291.5 1146.1,305 1149.5,310 1153.8,312 1167,313.9 1170.4,324.4 1173.4,342.4 1179.4,350 1183.9,352.6 1195,352.6 1200.3,346 1205.5,346 1208,352.8 1212,365 1216,380 1220.7,387" fill="none" stroke="#a5d6a7" stroke-width="1.2"/>
<polyline points="193,34 194.6,46.6 200.6,50.7 211,75 214.4,104.3 223.1,105.4 226.5,130.2 230,146.8 238.6,148.2 242.1,189.7 273.2,190.7 276.7,223.6 279.4,266.8 330.2,267.8 332.6,272 337.1,273.7 339.6,299.6 358.5,300 364.8,318.9 369.3,360.9 372.3,380.5 412.7,380.9 415.1,408.8 423.2,419.3 426.2,431.2 432.2,433.3 436.7,446.2 439.7,453.7 444.2,456.1 474.1,456.1 478.6,462.7 498.1,462.7 501.1,458.2 507.1,456.7 510.1,443.2 538.5,441.7 543,429.7 547.5,423.2 555,422.3 559.5,405.8 562.5,396.3 586,395.4 592,390.6 601.7,382 605.3,356.7 608.9,327.7 611.3,302.3 665.8,301.6 673,312 704.4,313.2 708,328.5 722.3,328.4 726.2,332.7 732.1,352.2 735.4,360.5 834.1,360.8 836.4,338.2 843.8,331.3 849.5,293.3 869.1,292.6 872.6,277.2 876,274.2 946.3,274.2 949.3,270.5 967.4,270.2 973.4,262.9 978.3,244.8 979.7,241 995.2,241.1 997.6,225.4 1001.2,197.6 1003.7,196.4 1041.1,195.9 1046.7,189.2 1050.8,193.8 1059.5,193.5 1063.5,195.2 1136.3,195.2 1139.6,197.9 1141.8,211 1143.3,235 1145.3,243 1147.3,248.7 1151.8,252.3 1169.5,272.9 1172.7,292.7 1176.4,293.5 1178.4,297.1 1182.4,299.9 1205.4,300.2 1207.7,309 1213.9,318.4 1216.2,330.4 1218.3,340.3 1220.7,340.9" fill="none" stroke="#ef9a9a" stroke-width="1.2"/>
<g shape-rendering="crispEdges">
<rect x="13" y="116" width="1446" height="1" fill="#131722"/>
</g>
<g shape-rendering="crispEdges">
<rect x="0.5" y="170.5" width="1135" height="36" fill="rgba(35,35,50,0.2)"/>
<rect x="-0.5" y="170" width="1136.5" height="1" fill="#2a2e39"/>
<rect x="-0.5" y="188" width="1136.5" height="1" fill="#2a2e39"/>
<rect x="-0.5" y="206" width="1136.5" height="1" fill="#2a2e39"/>
<rect x="1135" y="170" width="1" height="37" fill="#2a2e39"/>
<rect x="0.5" y="279.5" width="1127.5" height="21" fill="rgba(35,35,50,0.2)"/>
<rect x="-0.5" y="279" width="1128.5" height="1" fill="#2a2e39"/>
<rect x="-0.5" y="290" width="1128.5" height="1" fill="#2a2e39"/>
<rect x="-0.5" y="300" width="1128.5" height="1" fill="#2a2e39"/>
<rect x="1129" y="279" width="1" height="21" fill="#2a2e39"/>
<rect x="0.5" y="403.5" width="1154" height="37.8" fill="rgba(35,35,50,0.2)"/>
<rect x="-0.5" y="403" width="1155.5" height="1" fill="#2a2e39"/>
<rect x="-0.5" y="422" width="1155.5" height="1" fill="#2a2e39"/>
<rect x="-0.5" y="441" width="1155.5" height="1" fill="#2a2e39"/>
<rect x="1154" y="403" width="1" height="39" fill="#2a2e39"/>
<rect x="356" y="558.5" width="792.5" height="81.5" fill="rgba(35,35,50,0.2)"/>
<rect x="355" y="558" width="794" height="1" fill="#2a2e39"/>
<rect x="355" y="599" width="794" height="1" fill="#2a2e39"/>
<rect x="355" y="640" width="794" height="1" fill="#2a2e39"/>
<rect x="1148" y="558" width="1" height="83" fill="#2a2e39"/>
</g>
<line x1="12.9" y1="487.5" x2="1455" y2="487.5" stroke="#2962ff" stroke-width="1.1" stroke-dasharray="1.2 1.8"/>
<line x1="982.6" y1="295.6" x2="1177" y2="538.5" stroke="#131722" stroke-width="1.3"/>
<g shape-rendering="crispEdges">
<path d="M13 173.7h1v29h-1zM26 74.5h1v53.2h-1zM32 113.2h1v43.5h-1zM42 139.8h1v25.4h-1zM48 120.5h1v44.7h-1zM57 119.3h1v31.4h-1zM77 135h1v53.2h-1zM86 72.6h1v23.7h-1zM105 188.2h1v47.2h-1zM111 154.3h1v54.4h-1zM118 34.6h1v54.4h-1zM127 153.1h1v75h-1zM137 268.3h1v78.6h-1zM140 256.2h1v52h-1zM146 239.3h1v35.1h-1zM156 285.2h1v32.6h-1zM168 251.3h1v36.3h-1zM187 279.2h1v44.7h-1zM191 259.8h1v43.5h-1zM213 417.1h1v49.6h-1zM225 385.1h1v77.4h-1zM229 331.2h1v72.6h-1zM235 308h1v43.3h-1zM241 343.3h1v21.8h-1zM251 455.8h1v44.7h-1zM267 444.9h1v58h-1zM270 374.7h1v104h-1zM276 412.2h1v44.7h-1zM279 406.2h1v35.1h-1zM283 397.2h1v36.8h-1zM286 403.8h1v20.6h-1zM292 405h1v33.4h-1zM302 386.1h1v31h-1zM305 359h1v34.3h-1zM308 330h1v37.5h-1zM314 382.7h1v28.3h-1zM330 516.2h1v27.3h-1zM333 496.1h1v21.3h-1zM349 571.8h1v33.9h-1zM352 550h1v36.3h-1zM362 495.1h1v81.5h-1zM365 464.2h1v57.6h-1zM368 408.6h1v75h-1zM371 374.7h1v39.9h-1zM374 342.1h1v36.3h-1zM381 356.9h1v37.8h-1zM384 353.1h1v45.6h-1zM387 334.7h1v31.1h-1zM397 322h1v34.6h-1zM409 358.2h1v23.4h-1zM419 319.5h1v19h-1zM422 309h1v21.9h-1zM428 305.4h1v20h-1zM432 276.9h1v42.6h-1zM441 309.7h1v25.6h-1zM457 298.2h1v76.4h-1zM466 242.1h1v19.8h-1zM476 228.9h1v91.1h-1zM482 186.8h1v71h-1zM504 337.1h1v41.8h-1zM514 325.1h1v52.6h-1zM523 340.3h1v11.4h-1zM527 328.9h1v26h-1zM533 331.2h1v84.5h-1zM539 345.1h1v12.7h-1zM549 340.9h1v8.9h-1zM568 312h1v83.4h-1zM571 323.4h1v22.5h-1zM574 297.4h1v49.2h-1zM584 318h1v35.1h-1zM590 402.7h1v35.1h-1zM593 359.2h1v55.1h-1zM600 367.6h1v37.5h-1zM615 402.2h1v33.9h-1zM631 402.7h1v41.1h-1zM638 370h1v20.6h-1zM641 361.6h1v8.5h-1zM647 332.6h1v48.9h-1zM650 252.7h1v91.4h-1zM657 319.3h1v17.7h-1zM660 316.8h1v13.3h-1zM663 303.5h1v44h-1zM685 361.6h1v26.6h-1zM691 368.8h1v16.9h-1zM695 356.3h1v18.6h-1zM707 414.8h1v9.7h-1zM711 400.3h1v21.3h-1zM723 377.3h1v51.5h-1zM730 412.8h1v12.8h-1zM736 361.1h1v30.4h-1zM742 297.4h1v20.6h-1zM755 320.5h1v45.8h-1zM761 201.4h1v56.8h-1zM764 194.6h1v38.7h-1zM768 153h1v62.9h-1zM783 155.9h1v42.6h-1zM787 138h1v36.8h-1zM790 158.4h1v28.1h-1zM802 246.9h1v46.4h-1zM806 237.2h1v17.9h-1zM809 225.1h1v24.7h-1zM815 259.4h1v13.3h-1zM818 249.8h1v14.5h-1zM821 253.4h1v18.1h-1zM831 240.1h1v21.8h-1zM834 230.4h1v17.4h-1zM837 225.1h1v14.5h-1zM847 229.2h1v27.3h-1zM850 184h1v48.9h-1zM859 219.5h1v38h-1zM866 241.3h1v31.4h-1zM872 207.5h1v42.3h-1zM875 182.1h1v31.4h-1zM882 219.5h1v33.9h-1zM898 197.6h1v15.7h-1zM901 200h1v6.5h-1zM904 195.9h1v11.4h-1zM907 184.8h1v21.3h-1zM910 154.8h1v30h-1zM917 142h1v53.2h-1zM920 96h1v58h-1zM932 184.8h1v19.3h-1zM942 203.7h1v12.6h-1zM958 250.8h1v10.9h-1zM964 248.4h1v16.9h-1zM970 262.2h1v28.5h-1zM974 267.8h1v13.3h-1zM977 219.4h1v70.9h-1zM980 195.9h1v36.8h-1zM986 246h1v49.6h-1zM1002 249.6h1v21.8h-1zM1005 190.4h1v73.8h-1zM1012 225.4h1v18.1h-1zM1015 208.5h1v26.6h-1zM1018 217h1v9.7h-1zM1021 199.3h1v21.3h-1zM1028 234.6h1v27.1h-1zM1034 246h1v9.7h-1zM1056 271.4h1v12.1h-1zM1059 256.4h1v30.7h-1zM1075 376.1h1v36.3h-1zM1081 372.5h1v14.5h-1zM1088 368.8h1v24.2h-1zM1107 393.5h1v27.3h-1zM1110 344.6h1v48.9h-1zM1113 331.3h1v25.4h-1zM1116 305.5h1v45.2h-1zM1119 276.9h1v42.3h-1zM1132 437.1h1v25.4h-1zM1142 473.4h1v21.2h-1z" fill="#2962ff"/>
<path d="M19 91.4h1v50.8h-1zM23 118h1v14.5h-1zM35 112h1v55.6h-1zM38 130.1h1v35.1h-1zM45 116.8h1v48.4h-1zM51 128.9h1v55.6h-1zM61 112h1v25.4h-1zM70 103h1v25.9h-1zM83 62.9h1v34.6h-1zM89 54.4h1v53.9h-1zM92 98.7h1v32.6h-1zM96 93.9h1v50.8h-1zM99 137.4h1v14.5h-1zM102 150.7h1v71.3h-1zM108 172.5h1v36.3h-1zM124 81.5h1v149h-1zM130 184.5h1v75h-1zM134 240.5h1v110h-1zM143 271.4h1v21h-1zM149 258.6h1v7.3h-1zM153 264.6h1v49.6h-1zM159 264.6h1v60.5h-1zM162 321.5h1v9.7h-1zM172 193.3h1v81h-1zM175 255h1v32.6h-1zM178 257.4h1v38.7h-1zM181 291.2h1v32.6h-1zM184 291.2h1v32.6h-1zM194 268.3h1v33.9h-1zM200 441.2h1v64.1h-1zM216 427.9h1v32.6h-1zM219 442.5h1v19.3h-1zM222 446.1h1v25.4h-1zM238 325.2h1v37.5h-1zM248 418.3h1v64.1h-1zM254 452.1h1v64.1h-1zM260 459.4h1v108.8h-1zM264 412.2h1v119.7h-1zM273 395.3h1v67.7h-1zM289 401.3h1v38h-1zM295 414.2h1v23.5h-1zM311 346.4h1v56.8h-1zM317 382.7h1v53.7h-1zM321 408.1h1v44h-1zM324 411h1v116.1h-1zM327 476.3h1v42.3h-1zM340 490.8h1v46.4h-1zM346 554.9h1v50.8h-1zM355 542.8h1v33.9h-1zM378 338.5h1v55.6h-1zM390 327.1h1v23.2h-1zM394 349.5h1v50.2h-1zM400 351.2h1v39.7h-1zM403 359.4h1v9.1h-1zM406 365.5h1v12.3h-1zM413 352.1h1v13.7h-1zM425 313.2h1v17.4h-1zM435 296.9h1v34.6h-1zM438 322h1v29.8h-1zM444 309.7h1v56h-1zM447 336.9h1v30.8h-1zM451 314.4h1v37.1h-1zM454 307.8h1v85.8h-1zM460 275.2h1v37h-1zM470 249.8h1v32.1h-1zM473 249h1v51.1h-1zM479 232.9h1v36.1h-1zM485 196.9h1v48.9h-1zM489 221.1h1v30.6h-1zM495 289.4h1v19.7h-1zM501 348.5h1v51.3h-1zM508 333.3h1v23.4h-1zM511 336.2h1v42.7h-1zM517 300.6h1v26.1h-1zM520 326.3h1v30.4h-1zM530 336.5h1v48.4h-1zM536 337.7h1v24.1h-1zM546 330.1h1v15.2h-1zM552 343.1h1v26.6h-1zM555 359.5h1v33.3h-1zM558 378.9h1v10.8h-1zM565 369.2h1v10.4h-1zM581 313.7h1v23.7h-1zM587 318h1v121.4h-1zM596 375.6h1v19.8h-1zM603 359.2h1v12.1h-1zM606 370.8h1v16.2h-1zM609 372.5h1v67.7h-1zM612 402.7h1v31.4h-1zM625 412.4h1v10.9h-1zM628 422.5h1v47.9h-1zM644 356.3h1v35.6h-1zM669 294.6h1v23.5h-1zM676 325.3h1v10.2h-1zM682 357.9h1v30.2h-1zM688 360.4h1v15.2h-1zM698 358.7h1v25.9h-1zM701 384.5h1v16.9h-1zM704 394.2h1v40.4h-1zM720 388.2h1v27.1h-1zM726 387h1v35.1h-1zM745 300.9h1v22.9h-1zM752 326.4h1v41.1h-1zM774 114.8h1v17.7h-1zM777 125.2h1v50.8h-1zM780 163.9h1v34.6h-1zM793 139h1v24.9h-1zM796 163.9h1v47.2h-1zM799 199.5h1v95.8h-1zM840 234.1h1v16.9h-1zM844 244.9h1v26.1h-1zM853 180.9h1v45.9h-1zM856 206.2h1v52h-1zM863 242h1v18.6h-1zM869 243.7h1v19.3h-1zM879 201.9h1v54.7h-1zM885 214h1v13.5h-1zM923 96h1v37.5h-1zM926 119h1v25.4h-1zM929 137.2h1v67.7h-1zM936 184.8h1v20.8h-1zM939 201.2h1v15h-1zM945 208h1v21.8h-1zM948 227.8h1v3.6h-1zM951 221.3h1v13.8h-1zM961 259.8h1v9.2h-1zM967 255.7h1v27.3h-1zM983 205.6h1v90h-1zM989 234.6h1v26.6h-1zM993 254.4h1v15h-1zM996 258.1h1v20.6h-1zM1008 174.6h1v64.1h-1zM1024 201.7h1v60h-1zM1031 249.6h1v7.3h-1zM1037 248.4h1v20.1h-1zM1040 258.1h1v8h-1zM1043 256.9h1v19.8h-1zM1047 255.7h1v20.6h-1zM1053 253.2h1v24.2h-1zM1066 312h1v72.6h-1zM1069 379.7h1v21h-1zM1072 388.2h1v19.3h-1zM1078 375.6h1v11.4h-1zM1085 378h1v17.4h-1zM1091 354.8h1v37h-1zM1100 400.3h1v21.8h-1zM1104 404.6h1v22.2h-1zM1129 403.5h1v47h-1zM1138 457.3h1v49.4h-1z" fill="#000"/>
<path d="M12 173.7h3v2.4h-3zM15 104.7h3v82.2h-3zM25 85.4h3v42.3h-3zM31 137.4h3v19.3h-3zM41 150.7h3v14.5h-3zM47 128.9h3v36.3h-3zM53 143.4h3v33.9h-3zM56 133.8h3v9.7h-3zM66 110.8h3v52h-3zM76 135h3v44.7h-3zM79 62.9h3v72.1h-3zM85 75.7h3v7.3h-3zM104 188.2h3v25.4h-3zM110 184.5h3v24.2h-3zM114 69.7h3v116.1h-3zM117 60h3v9.7h-3zM126 189.4h3v38.7h-3zM136 274.3h3v72.6h-3zM139 271.9h3v2.4h-3zM145 262.2h3v12.1h-3zM155 285.2h3v16.9h-3zM164 277.9h3v49.6h-3zM167 251.3h3v26.6h-3zM186 303.3h3v20.6h-3zM190 270h3v33.4h-3zM202 431.6h3v41.1h-3zM205 395.8h3v35.8h-3zM212 431.6h3v14h-3zM224 403.8h3v46.7h-3zM228 345h3v58.8h-3zM234 342.1h3v9.2h-3zM240 355.4h3v7.3h-3zM250 470.3h3v10.9h-3zM256 459.4h3v49.1h-3zM266 478.7h3v20.6h-3zM269 412.2h3v66.5h-3zM275 441.2h3v15.7h-3zM278 434h3v7.3h-3zM282 414.6h3v19.3h-3zM285 411h3v3.6h-3zM291 414.6h3v16.9h-3zM297 400.1h3v23h-3zM301 393.4h3v6.8h-3zM304 367.5h3v25.9h-3zM307 359h3v8.5h-3zM313 382.7h3v20.6h-3zM329 516.2h3v2.4h-3zM332 513.8h3v3.6h-3zM335 490.8h3v23h-3zM348 580.3h3v25.4h-3zM351 550h3v30.2h-3zM361 521.7h3v54.9h-3zM364 467.8h3v53.9h-3zM367 408.6h3v59.3h-3zM370 378.4h3v30.2h-3zM373 356.1h3v22.2h-3zM380 382.2h3v12.4h-3zM383 357.5h3v24.7h-3zM386 339.4h3v18.1h-3zM396 351.2h3v5.4h-3zM408 362.2h3v9.6h-3zM415 338.5h3v27.2h-3zM418 321.2h3v17.4h-3zM421 313.2h3v8h-3zM427 319.1h3v6.3h-3zM431 301.8h3v17.7h-3zM440 309.7h3v18h-3zM456 311.3h3v50.4h-3zM462 255h3v57.6h-3zM465 253.4h3v2.4h-3zM475 239.4h3v60.8h-3zM481 206.1h3v51.6h-3zM503 337.1h3v27.5h-3zM513 325.1h3v49.4h-3zM522 350.4h3v1.3h-3zM526 340.3h3v11.4h-3zM532 339.6h3v39.9h-3zM538 349.4h3v4.2h-3zM541 332h3v17.7h-3zM548 342.8h3v2.5h-3zM561 373.2h3v16.5h-3zM567 345.9h3v33.9h-3zM570 336.9h3v8.9h-3zM573 297.4h3v39h-3zM583 318h3v9.7h-3zM589 414.3h3v13.8h-3zM592 375.6h3v38.7h-3zM599 367.6h3v24.9h-3zM614 406.3h3v7.3h-3zM618 393h3v13.3h-3zM630 411.1h3v27.8h-3zM633 381.4h3v29.7h-3zM637 370h3v11.4h-3zM640 365.2h3v4.8h-3zM646 344.2h3v37.2h-3zM649 297.5h3v46.7h-3zM656 330.1h3v4.4h-3zM659 328.9h3v1.2h-3zM662 310.8h3v18.1h-3zM665 294.6h3v17.4h-3zM684 367.6h3v20.6h-3zM690 373.7h3v2.4h-3zM694 362.8h3v12.1h-3zM706 419.6h3v2.9h-3zM710 403.9h3v17.7h-3zM713 382.1h3v21.8h-3zM722 394.2h3v18.6h-3zM729 412.8h3v5.6h-3zM732 382.6h3v31.3h-3zM735 361.1h3v21.5h-3zM738 318h3v43.1h-3zM741 309.2h3v8.8h-3zM754 320.5h3v28.8h-3zM757 258.3h3v62.3h-3zM760 213h3v45.2h-3zM763 201.4h3v11.6h-3zM767 153h3v50.8h-3zM770 116.3h3v36.8h-3zM782 170h3v28.5h-3zM786 167.6h3v3.6h-3zM789 158.4h3v12.8h-3zM801 254.6h3v27.8h-3zM805 248.6h3v6.5h-3zM808 247.4h3v2.4h-3zM814 264.3h3v6h-3zM817 259.9h3v4.4h-3zM820 255.8h3v4.8h-3zM827 261.4h3v6.5h-3zM830 247.8h3v14h-3zM833 238.9h3v8.9h-3zM836 236.5h3v3.1h-3zM846 229.2h3v21.8h-3zM849 192.2h3v37h-3zM858 242.5h3v15h-3zM865 247.8h3v3.9h-3zM871 213.5h3v36.3h-3zM874 201.9h3v11.6h-3zM881 219.5h3v24.2h-3zM887 208.2h3v13.8h-3zM893 210.9h3v22.2h-3zM897 206.6h3v4.4h-3zM900 203.2h3v3.4h-3zM903 195.9h3v7.3h-3zM906 184.8h3v11.6h-3zM909 158.9h3v25.9h-3zM916 142h3v30.2h-3zM919 114.2h3v27.8h-3zM931 184.8h3v15.2h-3zM941 210.9h3v5.3h-3zM957 259.3h3v2.4h-3zM963 262.2h3v3.1h-3zM969 269h3v10.2h-3zM973 267.8h3v2.4h-3zM976 219.4h3v50.8h-3zM979 215.8h3v3.6h-3zM985 249.6h3v45.9h-3zM998 265.3h3v13.3h-3zM1001 263.6h3v2.4h-3zM1004 195.9h3v68.2h-3zM1011 225.4h3v13.3h-3zM1014 221.8h3v3.6h-3zM1017 220.1h3v2.4h-3zM1020 210.9h3v9.7h-3zM1027 254h3v7.7h-3zM1033 248.4h3v7.3h-3zM1049 255.7h3v16.2h-3zM1055 271.4h3v6h-3zM1058 256.4h3v15.5h-3zM1074 376.1h3v25.4h-3zM1080 378h3v8.9h-3zM1087 383.3h3v9.7h-3zM1093 365.2h3v26.6h-3zM1106 393.5h3v13.5h-3zM1109 354.3h3v39.2h-3zM1112 345.9h3v8.5h-3zM1115 313.2h3v33.4h-3zM1118 282.2h3v31h-3zM1131 441.5h3v9h-3zM1141 487.2h3v7.4h-3z" fill="#2962ff"/>
<path d="M18 104.7h3v20.6h-3zM22 124.1h3v3.6h-3zM28 85.4h3v71.3h-3zM34 137.4h3v7.3h-3zM37 143.4h3v21.8h-3zM44 149.5h3v15.7h-3zM50 128.9h3v48.4h-3zM60 133.8h3v3.6h-3zM63 136.2h3v26.6h-3zM69 109.6h3v19.3h-3zM72 128.9h3v50.8h-3zM82 62.9h3v20.1h-3zM88 75.7h3v32.6h-3zM91 108.4h3v23h-3zM95 131.3h3v13.3h-3zM98 143.4h3v8.5h-3zM101 150.7h3v62.9h-3zM107 188.2h3v20.6h-3zM120 60h3v21.5h-3zM123 81.5h3v146.6h-3zM129 189.4h3v50.8h-3zM133 240.5h3v106.4h-3zM142 271.4h3v2.9h-3zM148 262.2h3v3.6h-3zM152 264.6h3v37.5h-3zM158 285.2h3v36.3h-3zM161 321.5h3v7.3h-3zM171 251.3h3v23h-3zM174 274.3h3v7.3h-3zM177 281.6h3v9.7h-3zM180 291.2h3v13.3h-3zM183 304.5h3v19.3h-3zM193 270h3v32.2h-3zM196 302.2h3v139.1h-3zM199 441.2h3v31.4h-3zM209 395.8h3v49.8h-3zM215 431.6h3v12.1h-3zM218 442.5h3v4.8h-3zM221 446.1h3v4.4h-3zM231 345h3v6.3h-3zM237 342.1h3v20.6h-3zM244 355.4h3v62.9h-3zM247 418.3h3v62.9h-3zM253 470.3h3v38.2h-3zM259 459.4h3v39.9h-3zM263 498.8h3v1h-3zM272 412.2h3v44.7h-3zM288 411h3v20.6h-3zM294 414.2h3v8.9h-3zM310 359h3v44.3h-3zM316 382.7h3v25.4h-3zM320 408.1h3v34.3h-3zM323 442.5h3v74.2h-3zM326 516.9h3v1.7h-3zM339 490.8h3v20.6h-3zM342 511.3h3v56.1h-3zM345 567.4h3v38.2h-3zM354 550.8h3v1.7h-3zM358 550.8h3v25.9h-3zM377 356.1h3v38h-3zM389 340.4h3v9.9h-3zM393 349.5h3v7.1h-3zM399 351.2h3v11.4h-3zM402 362.2h3v3.5h-3zM405 365.5h3v6.3h-3zM412 362.2h3v3.5h-3zM424 313.2h3v11.4h-3zM434 301.8h3v19.9h-3zM437 322h3v5.7h-3zM443 309.7h3v33h-3zM446 342.3h3v1h-3zM450 343h3v8.6h-3zM453 351.2h3v10.5h-3zM459 311h3v1.2h-3zM469 253.4h3v18.2h-3zM472 271.6h3v28.5h-3zM478 239.4h3v18.4h-3zM484 206.1h3v30.3h-3zM488 236.5h3v2.9h-3zM491 238.9h3v61.3h-3zM494 300.2h3v8.9h-3zM497 309.1h3v45.2h-3zM500 354.5h3v10.1h-3zM507 337.1h3v19.6h-3zM510 356.8h3v17.7h-3zM516 325.3h3v1.5h-3zM519 326.3h3v25.3h-3zM529 339.6h3v39.9h-3zM535 339.6h3v13.9h-3zM545 332h3v13.3h-3zM551 343.1h3v16.5h-3zM554 359.5h3v28.9h-3zM557 387.2h3v2.5h-3zM564 373.2h3v6.3h-3zM576 297.5h3v25.9h-3zM580 323.4h3v4.4h-3zM586 318h3v110h-3zM595 375.6h3v16.9h-3zM602 367.6h3v3.6h-3zM605 370.8h3v2.4h-3zM608 372.5h3v38h-3zM611 410.4h3v3.1h-3zM621 393h3v23h-3zM624 416h3v7.3h-3zM627 422.5h3v16.4h-3zM643 365.2h3v16.2h-3zM652 297.5h3v37h-3zM668 294.6h3v18.1h-3zM671 312.7h3v18.6h-3zM675 330.6h3v4.8h-3zM678 335h3v31.4h-3zM681 366.4h3v21.8h-3zM687 367.6h3v8h-3zM697 362.8h3v21.8h-3zM700 384.5h3v9.7h-3zM703 394.2h3v27.8h-3zM716 382.1h3v29.7h-3zM719 411.1h3v1.7h-3zM725 394.2h3v24.2h-3zM744 309.2h3v2.3h-3zM748 311.1h3v25.1h-3zM751 336.2h3v13.1h-3zM773 116.3h3v16.2h-3zM776 132.5h3v43.5h-3zM779 176h3v22.5h-3zM792 158.4h3v5.6h-3zM795 163.9h3v35.6h-3zM798 199.5h3v83h-3zM811 247.4h3v23h-3zM824 256.3h3v11.6h-3zM839 236.5h3v8.5h-3zM843 244.9h3v5.3h-3zM852 192.2h3v34.6h-3zM855 226.8h3v31.4h-3zM862 242h3v9.7h-3zM868 247.8h3v2.4h-3zM878 201.9h3v42.6h-3zM884 219.5h3v3.6h-3zM890 208h3v25.2h-3zM912 158.9h3v13.3h-3zM922 114.2h3v19.3h-3zM925 133.5h3v10.9h-3zM928 144.4h3v55.6h-3zM935 184.8h3v18.9h-3zM938 203.7h3v12.6h-3zM944 210.9h3v18.9h-3zM947 227.8h3v2.4h-3zM950 226.6h3v8.5h-3zM954 235.1h3v26.6h-3zM960 259.8h3v5.6h-3zM966 262.2h3v16.9h-3zM982 215.8h3v79.8h-3zM988 249.6h3v11.6h-3zM992 261.2h3v8.2h-3zM995 269.4h3v9.2h-3zM1007 195.9h3v42.8h-3zM1023 210.9h3v50.8h-3zM1030 253.2h3v1.7h-3zM1036 248.4h3v12.8h-3zM1039 260.5h3v3.1h-3zM1042 262.9h3v8.5h-3zM1046 270.9h3v1.2h-3zM1052 255.7h3v21.8h-3zM1061 256.4h3v73.3h-3zM1065 329.6h3v54.9h-3zM1068 384.5h3v16.2h-3zM1071 400.3h3v1.5h-3zM1077 377.3h3v9.7h-3zM1084 378h3v15h-3zM1090 383.3h3v8.5h-3zM1096 365.2h3v36.3h-3zM1099 400.3h3v5.3h-3zM1103 404.6h3v2.4h-3zM1122 282.2h3v61.2h-3zM1125 343.4h3v73.8h-3zM1128 417.3h3v33.2h-3zM1134 441.5h3v15.9h-3zM1137 457.3h3v37.3h-3z" fill="#000"/>
</g>
</g>
<rect x="1146.5" y="137" width="84.5" height="30.2" rx="4" fill="#fff" stroke="#2962ff" stroke-width="2.3"/>
<polygon points="1149.9,167.2 1161.5,167.2 1135.5,185.6" fill="#fff" stroke="#2962ff" stroke-width="2.3" stroke-linejoin="round"/>
<rect x="1151.3" y="165.4" width="8.4" height="2.6" fill="#fff"/>
<circle cx="1135.5" cy="185.6" r="3.5" fill="#fff"/>
<circle cx="1135.5" cy="185.6" r="2.6" fill="#2962ff"/>
<text x="1160.1" y="156.6" class="b" font-size="17" fill="#2962ff" textLength="58.4" lengthAdjust="spacingAndGlyphs">59.79%</text>
<rect x="1153" y="241.3" width="84.4" height="30.4" rx="4" fill="#fff" stroke="#2962ff" stroke-width="2.3"/>
<polygon points="1156.4,271.8 1168,271.8 1141.7,290.6" fill="#fff" stroke="#2962ff" stroke-width="2.3" stroke-linejoin="round"/>
<rect x="1157.8" y="270" width="8.4" height="2.6" fill="#fff"/>
<circle cx="1141.7" cy="290.6" r="3.5" fill="#fff"/>
<circle cx="1141.7" cy="290.6" r="2.6" fill="#2962ff"/>
<text x="1166.7" y="261.6" class="b" font-size="17" fill="#2962ff" textLength="58.5" lengthAdjust="spacingAndGlyphs">59.47%</text>
<polygon points="1172.2,384.2 1183.8,384.2 1157.5,402.9" fill="#2962ff" stroke="#2962ff" stroke-width="1.2" stroke-linejoin="round"/>
<rect x="1167.6" y="352.9" width="86.7" height="32.4" rx="5" fill="#2962ff"/>
<circle cx="1157.5" cy="402.9" r="3.5" fill="#fff"/>
<circle cx="1157.5" cy="402.9" r="2.6" fill="#2962ff"/>
<text x="1182.1" y="373.6" class="b" font-size="17" fill="#fff" textLength="59" lengthAdjust="spacingAndGlyphs">59.12%</text>
<rect x="1175.2" y="548.4" width="84.3" height="30.3" rx="4" fill="#fff" stroke="#2962ff" stroke-width="2.3"/>
<polygon points="1178.6,578.8 1190.2,578.8 1163.9,597.4" fill="#fff" stroke="#2962ff" stroke-width="2.3" stroke-linejoin="round"/>
<rect x="1180" y="577" width="8.4" height="2.6" fill="#fff"/>
<circle cx="1163.9" cy="597.4" r="3.5" fill="#fff"/>
<circle cx="1163.9" cy="597.4" r="2.6" fill="#2962ff"/>
<text x="1188.7" y="568.6" class="b" font-size="17" fill="#2962ff" textLength="58.5" lengthAdjust="spacingAndGlyphs">58.52%</text>
<circle cx="1142.8" cy="639.1" r="14.3" fill="#fff"/>
<circle cx="1142.8" cy="639.1" r="12.4" fill="none" stroke="#9c27b0" stroke-width="1.7"/>
<polygon points="1145.7,633 1137.6,639.8 1142,640 1138.8,646 1147.4,639 1142.8,638.8" fill="#9c27b0" stroke="#9c27b0" stroke-width="0.7" stroke-linejoin="round"/>
<circle cx="1151.1" cy="630.8" r="4.6" fill="#fff"/>
<circle cx="1151.1" cy="630.8" r="3.1" fill="#f23645"/>
<text x="1470" y="59.8" class="ax axs" textLength="54.5" lengthAdjust="spacingAndGlyphs">60.20%</text>
<text x="1470" y="189.4" class="ax axs" textLength="54.5" lengthAdjust="spacingAndGlyphs">59.80%</text>
<text x="1470" y="254.2" class="ax axs" textLength="54.5" lengthAdjust="spacingAndGlyphs">59.60%</text>
<text x="1470" y="319" class="ax axs" textLength="54.5" lengthAdjust="spacingAndGlyphs">59.40%</text>
<text x="1470" y="383.8" class="ax axs" textLength="54.5" lengthAdjust="spacingAndGlyphs">59.20%</text>
<text x="1470" y="448.6" class="ax axs" textLength="54.5" lengthAdjust="spacingAndGlyphs">59.00%</text>
<text x="1470" y="578.2" class="ax axs" textLength="54.5" lengthAdjust="spacingAndGlyphs">58.60%</text>
<text x="1470" y="643" class="ax axs" textLength="54.5" lengthAdjust="spacingAndGlyphs">58.40%</text>
<text x="1470.4" y="683.1" class="ax axs" textLength="43.6" lengthAdjust="spacingAndGlyphs">80.00</text>
<text x="1470.4" y="736.9" class="ax axs" textLength="43.6" lengthAdjust="spacingAndGlyphs">40.00</text>
<path d="M1459 104H1528.3Q1531.3 104 1531.3 107V125.7Q1531.3 128.7 1528.3 128.7H1459V104Z" fill="#131722"/>
<text x="1471.5" y="122.4" class="ax b" fill="#fff" style="fill:#fff" textLength="54.5" lengthAdjust="spacingAndGlyphs">60.01%</text>
<path d="M1459 329.5H1528.3Q1531.3 329.5 1531.3 332.5V350.7Q1531.3 353.7 1528.3 353.7H1459V329.5Z" fill="#ef9a9a"/>
<text x="1471.5" y="347.7" class="ax axs" fill="#131722" style="fill:#131722" textLength="53.5" lengthAdjust="spacingAndGlyphs">59.31%</text>
<path d="M1459 375.3H1528.3Q1531.3 375.3 1531.3 378.3V396.6Q1531.3 399.6 1528.3 399.6H1459V375.3Z" fill="#a5d6a7"/>
<text x="1471.5" y="393.6" class="ax axs" fill="#131722" style="fill:#131722" textLength="53.5" lengthAdjust="spacingAndGlyphs">59.17%</text>
<path d="M1459 475.4H1543.2Q1546.2 475.4 1546.2 478.4V517.2Q1546.2 520.2 1543.2 520.2H1459V475.4Z" fill="#2962ff"/>
<text x="1471.5" y="493.2" class="ax b" style="fill:#fff" textLength="53.5" lengthAdjust="spacingAndGlyphs">58.86%</text>
<text x="1471" y="513.6" class="ax" style="fill:#d4dfff;stroke:#d4dfff;stroke-width:0.3px" textLength="66.6" lengthAdjust="spacingAndGlyphs">01:08:21</text>
<path d="M1401 475.4H1457.8V499.8H1401Q1398 499.8 1398 496.8V478.4Q1398 475.4 1401 475.4Z" fill="#2962ff"/>
<text x="1405" y="493.2" class="ax b" style="fill:#fff" textLength="46.7" lengthAdjust="spacingAndGlyphs">BTC.D</text>
<g clip-path="url(#bclip)"><defs><clipPath id="bclip"><rect x="13" y="657" width="1537" height="135"/></clipPath></defs>
<text x="8.8" y="779.2" class="ax axs" textLength="8.5" lengthAdjust="spacingAndGlyphs">8</text>
<text x="80.2" y="779.2" class="ax axs" textLength="17.5" lengthAdjust="spacingAndGlyphs">12</text>
<text x="156.2" y="779.2" class="ax axs" textLength="17.5" lengthAdjust="spacingAndGlyphs">16</text>
<text x="232.2" y="779.2" class="ax axs" textLength="17.5" lengthAdjust="spacingAndGlyphs">20</text>
<text x="308.2" y="779.2" class="ax axs" textLength="17.5" lengthAdjust="spacingAndGlyphs">24</text>
<text x="670.2" y="779.2" class="ax axs" textLength="17.5" lengthAdjust="spacingAndGlyphs">13</text>
<text x="746.2" y="779.2" class="ax axs" textLength="17.5" lengthAdjust="spacingAndGlyphs">17</text>
<text x="822.2" y="779.2" class="ax axs" textLength="17.5" lengthAdjust="spacingAndGlyphs">21</text>
<text x="898.2" y="779.2" class="ax axs" textLength="17.5" lengthAdjust="spacingAndGlyphs">25</text>
<text x="1259.2" y="779.2" class="ax axs" textLength="17.5" lengthAdjust="spacingAndGlyphs">13</text>
<text x="1335.2" y="779.2" class="ax axs" textLength="17.5" lengthAdjust="spacingAndGlyphs">17</text>
<text x="1411.2" y="779.2" class="ax axs" textLength="17.5" lengthAdjust="spacingAndGlyphs">21</text>
<text x="522.8" y="779.2" class="ax axs" textLength="8.5" lengthAdjust="spacingAndGlyphs">5</text>
<text x="598.8" y="779.2" class="ax axs" textLength="8.5" lengthAdjust="spacingAndGlyphs">9</text>
<text x="1111.8" y="779.2" class="ax axs" textLength="8.5" lengthAdjust="spacingAndGlyphs">5</text>
<text x="1187.8" y="779.2" class="ax axs" textLength="8.5" lengthAdjust="spacingAndGlyphs">9</text>
<text x="437" y="779.2" class="ax axs" textLength="28" lengthAdjust="spacingAndGlyphs">Dec</text>
<text x="1020.5" y="779.2" class="ax b" textLength="39" lengthAdjust="spacingAndGlyphs">2026</text>
</g>
<text x="13" y="24.5" class="lg" style="fill:#131722;stroke:#131722" textLength="108.8" lengthAdjust="spacingAndGlyphs">novintrader1376</text>
<text x="127.7" y="24.5" class="lg" style="fill:#131722;stroke:#131722" textLength="50.7" lengthAdjust="spacingAndGlyphs">created</text>
<text x="183.9" y="24.5" class="lg" style="fill:#131722;stroke:#131722" textLength="28.1" lengthAdjust="spacingAndGlyphs">with</text>
<text x="217.9" y="24.5" class="lg" style="fill:#131722;stroke:#131722" textLength="117.2" lengthAdjust="spacingAndGlyphs">TradingView.com,</text>
<text x="341" y="24.5" class="lg" style="fill:#131722;stroke:#131722" textLength="22.6" lengthAdjust="spacingAndGlyphs">Jan</text>
<text x="368.9" y="24.5" class="lg" style="fill:#131722;stroke:#131722" textLength="19" lengthAdjust="spacingAndGlyphs">06,</text>
<text x="394.3" y="24.5" class="lg" style="fill:#131722;stroke:#131722" textLength="30.6" lengthAdjust="spacingAndGlyphs">2026</text>
<text x="431.2" y="24.5" class="lg" style="fill:#131722;stroke:#131722" textLength="33.8" lengthAdjust="spacingAndGlyphs">13:51</text>
<text x="472.4" y="24.5" class="lg" style="fill:#131722;stroke:#131722" textLength="39.7" lengthAdjust="spacingAndGlyphs">UTC-5</text>
<text x="23" y="58.5" class="lg" style="fill:#131722;stroke:#131722" textLength="44.9" lengthAdjust="spacingAndGlyphs">Market</text>
<text x="74.1" y="58.5" class="lg" style="fill:#131722;stroke:#131722" textLength="24.5" lengthAdjust="spacingAndGlyphs">Cap</text>
<text x="104.3" y="58.5" class="lg" style="fill:#131722;stroke:#131722" textLength="24.7" lengthAdjust="spacingAndGlyphs">BTC</text>
<text x="134.7" y="58.5" class="lg" style="fill:#131722;stroke:#131722" textLength="76.9" lengthAdjust="spacingAndGlyphs">Dominance,</text>
<text x="217.8" y="58.5" class="lg" style="fill:#131722;stroke:#131722" textLength="9" lengthAdjust="spacingAndGlyphs">%</text>
<text x="233" y="58.5" class="lg" style="fill:#131722;stroke:#131722" textLength="2.2" lengthAdjust="spacingAndGlyphs">·</text>
<text x="241.5" y="58.5" class="lg" style="fill:#131722;stroke:#131722" textLength="15.5" lengthAdjust="spacingAndGlyphs">4h</text>
<text x="264.3" y="58.5" class="lg" style="fill:#131722;stroke:#131722" textLength="2.2" lengthAdjust="spacingAndGlyphs">·</text>
<text x="272" y="58.5" class="lg" style="fill:#131722;stroke:#131722" textLength="77.3" lengthAdjust="spacingAndGlyphs">CRYPTOCAP</text>
<text x="359" y="58.5" class="lg" style="fill:#131722;stroke:#131722" textLength="9.3" lengthAdjust="spacingAndGlyphs">O</text>
<text x="369" y="58.5" class="lg" style="fill:#2962ff;stroke:#2962ff" textLength="45.5" lengthAdjust="spacingAndGlyphs">58.84%</text>
<text x="424.7" y="58.5" class="lg" style="fill:#131722;stroke:#131722" textLength="8.9" lengthAdjust="spacingAndGlyphs">H</text>
<text x="434.4" y="58.5" class="lg" style="fill:#2962ff;stroke:#2962ff" textLength="44.8" lengthAdjust="spacingAndGlyphs">58.91%</text>
<text x="489.2" y="58.5" class="lg" style="fill:#131722;stroke:#131722" textLength="6.3" lengthAdjust="spacingAndGlyphs">L</text>
<text x="496.3" y="58.5" class="lg" style="fill:#2962ff;stroke:#2962ff" textLength="45.7" lengthAdjust="spacingAndGlyphs">58.84%</text>
<text x="551.6" y="58.5" class="lg" style="fill:#131722;stroke:#131722" textLength="8" lengthAdjust="spacingAndGlyphs">C</text>
<text x="560.3" y="58.5" class="lg" style="fill:#2962ff;stroke:#2962ff" textLength="46.1" lengthAdjust="spacingAndGlyphs">58.86%</text>
<text x="615.9" y="58.5" class="lg" style="fill:#2962ff;stroke:#2962ff" textLength="97.1" lengthAdjust="spacingAndGlyphs">+0.02 (+0.04%)</text>
<text x="23" y="80.5" class="lg" style="fill:#131722;stroke:#131722" textLength="60.6" lengthAdjust="spacingAndGlyphs">Ichimoku</text>
<text x="89.3" y="80.5" class="lg" style="fill:#131722;stroke:#131722" textLength="18" lengthAdjust="spacingAndGlyphs">(9,</text>
<text x="112.3" y="80.5" class="lg" style="fill:#131722;stroke:#131722" textLength="18.7" lengthAdjust="spacingAndGlyphs">26,</text>
<text x="136.7" y="80.5" class="lg" style="fill:#131722;stroke:#131722" textLength="19.3" lengthAdjust="spacingAndGlyphs">52,</text>
<text x="162.2" y="80.5" class="lg" style="fill:#131722;stroke:#131722" textLength="21.4" lengthAdjust="spacingAndGlyphs">26)</text>
<text x="193.5" y="80.5" class="lg" style="fill:#a5d6a7;stroke:#a5d6a7" textLength="45" lengthAdjust="spacingAndGlyphs">59.17%</text>
<text x="248" y="80.5" class="lg" style="fill:#ef9a9a;stroke:#ef9a9a" textLength="46" lengthAdjust="spacingAndGlyphs">59.31%</text>
<g fill="#131313">
<path d="M15.4 820.3H30.4V838.8H23V828H15.4Z"/>
<circle cx="36.5" cy="824.1" r="3.8"/>
<path d="M44.5 820.3H53L45.8 838.8H36.9Z"/>
<text x="61.9" y="838.8" class="b" font-size="25.4" style="fill:#131313" textLength="151.2" lengthAdjust="spacingAndGlyphs">TradingView</text>
</g>
</svg></body></html>
